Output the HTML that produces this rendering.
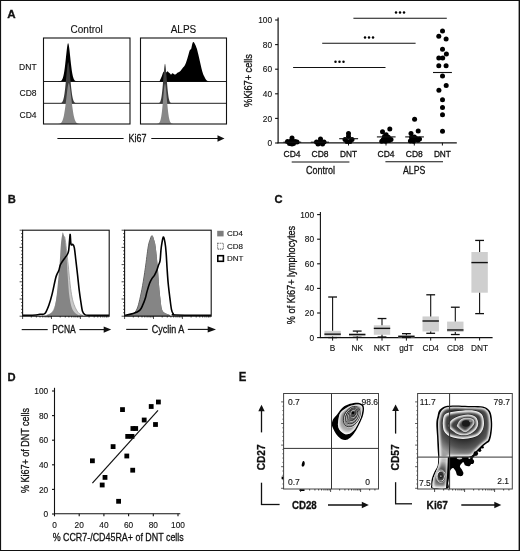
<!DOCTYPE html><html><head><meta charset="utf-8"><style>html,body{margin:0;padding:0;background:#fff;overflow:hidden;}svg{display:block;will-change:transform;font-family:"Liberation Sans",sans-serif;}text{stroke:#111;stroke-width:0.12px;} text[textLength]{stroke-width:0.3px;}</style></head><body><svg width="520" height="551" viewBox="0 0 520 551" font-family="Liberation Sans, sans-serif">
<rect x="0" y="0" width="520" height="551" fill="#fff"/>
<text x="7.3" y="17.8" font-size="11.8" text-anchor="start" fill="#111" font-weight="bold" textLength="8.4" lengthAdjust="spacingAndGlyphs" >A</text>
<text x="7.7" y="202.9" font-size="11.8" text-anchor="start" fill="#111" font-weight="bold" textLength="8.1" lengthAdjust="spacingAndGlyphs" >B</text>
<text x="274.5" y="202.9" font-size="11.8" text-anchor="start" fill="#111" font-weight="bold" textLength="8.1" lengthAdjust="spacingAndGlyphs" >C</text>
<text x="7.5" y="380.8" font-size="11.8" text-anchor="start" fill="#111" font-weight="bold" textLength="8.1" lengthAdjust="spacingAndGlyphs" >D</text>
<text x="238.8" y="380.9" font-size="12.3" text-anchor="start" fill="#111" font-weight="bold" textLength="7.6" lengthAdjust="spacingAndGlyphs" >E</text>
<text x="86.7" y="32.8" font-size="10" text-anchor="middle" fill="#111" >Control</text>
<text x="183.5" y="32.8" font-size="10" text-anchor="middle" fill="#111" >ALPS</text>
<text x="36.6" y="70.2" font-size="8.5" text-anchor="end" fill="#111" >DNT</text>
<text x="36.6" y="95.9" font-size="8.5" text-anchor="end" fill="#111" >CD8</text>
<text x="36.6" y="118.1" font-size="8.5" text-anchor="end" fill="#111" >CD4</text>
<line x1="43.5" y1="81.5" x2="130" y2="81.5" stroke="#222" stroke-width="1" />
<line x1="43.5" y1="103.3" x2="130" y2="103.3" stroke="#222" stroke-width="1" />
<line x1="140.5" y1="81.5" x2="226.5" y2="81.5" stroke="#222" stroke-width="1" />
<line x1="140.5" y1="103.3" x2="226.5" y2="103.3" stroke="#222" stroke-width="1" />
<path d="M56.00,81.40 L56.25,81.40 L56.50,81.40 L56.75,81.40 L57.00,81.40 L57.25,81.40 L57.50,81.39 L57.75,81.39 L58.00,81.39 L58.25,81.38 L58.50,81.37 L58.75,81.36 L59.00,81.35 L59.25,81.33 L59.50,81.30 L59.75,81.27 L60.00,81.22 L60.25,81.15 L60.50,81.07 L60.75,80.96 L61.00,80.82 L61.25,80.64 L61.50,80.42 L61.75,80.14 L62.00,79.79 L62.25,79.36 L62.50,78.84 L62.75,78.21 L63.00,77.46 L63.25,76.58 L63.50,75.56 L63.75,74.37 L64.00,73.02 L64.25,71.50 L64.50,69.81 L64.75,67.95 L65.00,65.94 L65.25,63.79 L65.50,61.52 L65.75,59.18 L66.00,56.80 L66.25,54.43 L66.50,52.13 L66.75,49.95 L67.00,47.96 L67.25,46.23 L67.50,44.82 L67.75,43.81 L68.00,43.26 L68.25,43.33 L68.50,43.97 L68.75,45.07 L69.00,46.55 L69.25,48.34 L69.50,50.37 L69.75,52.58 L70.00,54.90 L70.25,57.28 L70.50,59.65 L70.75,61.98 L71.00,64.23 L71.25,66.35 L71.50,68.34 L71.75,70.16 L72.00,71.82 L72.25,73.31 L72.50,74.62 L72.75,75.77 L73.00,76.77 L73.25,77.62 L73.50,78.34 L73.75,78.95 L74.00,79.45 L74.25,79.86 L74.50,80.20 L74.75,80.47 L75.00,80.68 L75.25,80.85 L75.50,80.99 L75.75,81.09 L76.00,81.17 L76.25,81.23 L76.50,81.27 L76.75,81.31 L77.00,81.33 L77.25,81.35 L77.50,81.37 L77.75,81.38 L78.00,81.38 L78.25,81.39 L78.50,81.39 L78.75,81.39 L79.00,81.40 L79.25,81.40 L79.50,81.40 L79.75,81.40 L80.00,81.40 L80.25,81.40 L80.50,81.40 L80.75,81.40 L81.00,81.40 L81.25,81.40 L81.50,81.40 L81.75,81.40 L82.00,81.40 L82.00,81.4 L56.00,81.4 Z" fill="#000"/>
<path d="M56.00,103.30 L56.25,103.30 L56.50,103.30 L56.75,103.30 L57.00,103.30 L57.25,103.30 L57.50,103.30 L57.75,103.30 L58.00,103.30 L58.25,103.29 L58.50,103.29 L58.75,103.29 L59.00,103.28 L59.25,103.27 L59.50,103.26 L59.75,103.24 L60.00,103.22 L60.25,103.18 L60.50,103.14 L60.75,103.07 L61.00,102.99 L61.25,102.88 L61.50,102.73 L61.75,102.54 L62.00,102.29 L62.25,101.98 L62.50,101.58 L62.75,101.09 L63.00,100.48 L63.25,99.74 L63.50,98.84 L63.75,97.78 L64.00,96.54 L64.25,95.10 L64.50,93.45 L64.75,91.58 L65.00,89.51 L65.25,87.25 L65.50,84.80 L65.75,82.21 L66.00,79.52 L66.25,76.79 L66.50,74.07 L66.75,71.43 L67.00,68.97 L67.25,66.76 L67.50,64.90 L67.75,63.47 L68.00,62.56 L68.25,62.32 L68.50,62.86 L68.75,63.98 L69.00,65.60 L69.25,67.61 L69.50,69.93 L69.75,72.47 L70.00,75.15 L70.25,77.88 L70.50,80.61 L70.75,83.26 L71.00,85.80 L71.25,88.18 L71.50,90.37 L71.75,92.35 L72.00,94.13 L72.25,95.70 L72.50,97.06 L72.75,98.23 L73.00,99.22 L73.25,100.05 L73.50,100.74 L73.75,101.30 L74.00,101.75 L74.25,102.11 L74.50,102.40 L74.75,102.62 L75.00,102.79 L75.25,102.93 L75.50,103.03 L75.75,103.10 L76.00,103.16 L76.25,103.20 L76.50,103.23 L76.75,103.25 L77.00,103.27 L77.25,103.28 L77.50,103.28 L77.75,103.29 L78.00,103.29 L78.25,103.30 L78.50,103.30 L78.75,103.30 L79.00,103.30 L79.25,103.30 L79.50,103.30 L79.75,103.30 L80.00,103.30 L80.25,103.30 L80.50,103.30 L80.75,103.30 L81.00,103.30 L81.25,103.30 L81.50,103.30 L81.75,103.30 L82.00,103.30 L82.00,103.3 L56.00,103.3 Z" fill="#3c3c3c"/>
<path d="M56.00,123.99 L56.25,123.99 L56.50,123.99 L56.75,123.98 L57.00,123.98 L57.25,123.97 L57.50,123.96 L57.75,123.95 L58.00,123.94 L58.25,123.92 L58.50,123.89 L58.75,123.86 L59.00,123.82 L59.25,123.77 L59.50,123.71 L59.75,123.63 L60.00,123.54 L60.25,123.42 L60.50,123.28 L60.75,123.10 L61.00,122.89 L61.25,122.64 L61.50,122.34 L61.75,121.98 L62.00,121.56 L62.25,121.07 L62.50,120.50 L62.75,119.83 L63.00,119.08 L63.25,118.21 L63.50,117.24 L63.75,116.14 L64.00,114.92 L64.25,113.57 L64.50,112.10 L64.75,110.49 L65.00,108.77 L65.25,106.92 L65.50,104.98 L65.75,102.95 L66.00,100.84 L66.25,98.70 L66.50,96.54 L66.75,94.41 L67.00,92.32 L67.25,90.33 L67.50,88.48 L67.75,86.82 L68.00,85.38 L68.25,84.23 L68.50,83.42 L68.75,83.02 L69.00,83.20 L69.25,83.86 L69.50,84.89 L69.75,86.21 L70.00,87.79 L70.25,89.57 L70.50,91.51 L70.75,93.56 L71.00,95.68 L71.25,97.84 L71.50,99.99 L71.75,102.11 L72.00,104.17 L72.25,106.16 L72.50,108.04 L72.75,109.82 L73.00,111.47 L73.25,113.00 L73.50,114.40 L73.75,115.67 L74.00,116.81 L74.25,117.83 L74.50,118.74 L74.75,119.54 L75.00,120.24 L75.25,120.85 L75.50,121.37 L75.75,121.82 L76.00,122.20 L76.25,122.53 L76.50,122.80 L76.75,123.02 L77.00,123.21 L77.25,123.37 L77.50,123.50 L77.75,123.60 L78.00,123.68 L78.25,123.75 L78.50,123.80 L78.75,123.85 L79.00,123.88 L79.25,123.91 L79.50,123.93 L79.75,123.95 L80.00,123.96 L80.25,123.97 L80.50,123.98 L80.75,123.98 L81.00,123.99 L81.25,123.99 L81.50,123.99 L81.75,123.99 L82.00,124.00 L82.00,124 L56.00,124 Z" fill="#888"/>
<path d="M158.80,81.70 C158.93,81.62 159.08,82.13 159.60,81.20 C160.12,80.27 161.32,77.53 161.90,76.10 C162.48,74.67 162.67,73.37 163.10,72.60 C163.53,71.83 163.93,71.55 164.50,71.50 C165.07,71.45 166.00,72.35 166.50,72.30 C167.00,72.25 167.12,71.15 167.50,71.20 C167.88,71.25 168.38,72.22 168.80,72.60 C169.22,72.98 169.62,73.17 170.00,73.50 C170.38,73.83 170.72,74.65 171.10,74.60 C171.48,74.55 171.90,73.33 172.30,73.20 C172.70,73.07 173.12,73.57 173.50,73.80 C173.88,74.03 174.22,74.53 174.60,74.60 C174.98,74.67 175.40,74.43 175.80,74.20 C176.20,73.97 176.63,73.47 177.00,73.20 C177.37,72.93 177.43,72.98 178.00,72.60 C178.57,72.22 179.62,71.67 180.40,70.90 C181.18,70.13 181.93,68.97 182.70,68.00 C183.47,67.03 184.23,66.63 185.00,65.10 C185.77,63.57 186.53,61.20 187.30,58.80 C188.07,56.40 189.07,52.25 189.60,50.70 C190.13,49.15 190.22,49.88 190.50,49.50 C190.78,49.12 190.97,49.45 191.30,48.40 C191.63,47.35 192.12,44.27 192.50,43.20 C192.88,42.13 193.12,41.72 193.60,42.00 C194.08,42.28 194.97,44.07 195.40,44.90 C195.83,45.73 195.92,46.23 196.20,47.00 C196.48,47.77 196.67,47.92 197.10,49.50 C197.53,51.08 198.22,54.00 198.80,56.50 C199.38,59.00 200.02,62.02 200.60,64.50 C201.18,66.98 201.73,69.47 202.30,71.40 C202.87,73.33 203.33,74.65 204.00,76.10 C204.67,77.55 205.63,79.23 206.30,80.10 C206.97,80.97 207.55,81.03 208.00,81.30 C208.45,81.57 208.83,81.63 209.00,81.70 Z" fill="#000"/>
<path d="M155.00,103.30 L155.25,103.30 L155.50,103.30 L155.75,103.30 L156.00,103.30 L156.25,103.30 L156.50,103.30 L156.75,103.29 L157.00,103.29 L157.25,103.28 L157.50,103.28 L157.75,103.26 L158.00,103.24 L158.25,103.21 L158.50,103.16 L158.75,103.10 L159.00,103.00 L159.25,102.87 L159.50,102.68 L159.75,102.43 L160.00,102.09 L160.25,101.64 L160.50,101.06 L160.75,100.31 L161.00,99.37 L161.25,98.20 L161.50,96.79 L161.75,95.10 L162.00,93.11 L162.25,90.84 L162.50,88.28 L162.75,85.48 L163.00,82.47 L163.25,79.34 L163.50,76.18 L163.75,73.10 L164.00,70.23 L164.25,67.71 L164.50,65.70 L164.75,64.34 L165.00,63.80 L165.25,64.34 L165.50,65.70 L165.75,67.71 L166.00,70.23 L166.25,73.10 L166.50,76.18 L166.75,79.34 L167.00,82.47 L167.25,85.48 L167.50,88.28 L167.75,90.84 L168.00,93.11 L168.25,95.10 L168.50,96.79 L168.75,98.20 L169.00,99.37 L169.25,100.31 L169.50,101.06 L169.75,101.64 L170.00,102.09 L170.25,102.43 L170.50,102.68 L170.75,102.87 L171.00,103.00 L171.25,103.10 L171.50,103.16 L171.75,103.21 L172.00,103.24 L172.25,103.26 L172.50,103.28 L172.75,103.28 L173.00,103.29 L173.25,103.29 L173.50,103.30 L173.75,103.30 L174.00,103.30 L174.25,103.30 L174.50,103.30 L174.75,103.30 L175.00,103.30 L175.00,103.3 L155.00,103.3 Z" fill="#3c3c3c"/>
<path d="M155.00,123.70 L155.25,123.70 L155.50,123.70 L155.75,123.69 L156.00,123.69 L156.25,123.68 L156.50,123.68 L156.75,123.66 L157.00,123.65 L157.25,123.63 L157.50,123.59 L157.75,123.55 L158.00,123.49 L158.25,123.40 L158.50,123.29 L158.75,123.14 L159.00,122.94 L159.25,122.68 L159.50,122.35 L159.75,121.93 L160.00,121.39 L160.25,120.73 L160.50,119.92 L160.75,118.94 L161.00,117.77 L161.25,116.39 L161.50,114.79 L161.75,112.95 L162.00,110.88 L162.25,108.58 L162.50,106.07 L162.75,103.39 L163.00,100.58 L163.25,97.71 L163.50,94.85 L163.75,92.09 L164.00,89.53 L164.25,87.28 L164.50,85.47 L164.75,84.22 L165.00,83.70 L165.25,84.22 L165.50,85.47 L165.75,87.28 L166.00,89.53 L166.25,92.09 L166.50,94.85 L166.75,97.71 L167.00,100.58 L167.25,103.39 L167.50,106.07 L167.75,108.58 L168.00,110.88 L168.25,112.95 L168.50,114.79 L168.75,116.39 L169.00,117.77 L169.25,118.94 L169.50,119.92 L169.75,120.73 L170.00,121.39 L170.25,121.93 L170.50,122.35 L170.75,122.68 L171.00,122.94 L171.25,123.14 L171.50,123.29 L171.75,123.40 L172.00,123.49 L172.25,123.55 L172.50,123.59 L172.75,123.63 L173.00,123.65 L173.25,123.66 L173.50,123.68 L173.75,123.68 L174.00,123.69 L174.25,123.69 L174.50,123.70 L174.75,123.70 L175.00,123.70 L175.00,123.7 L155.00,123.7 Z" fill="#888"/>
<rect x="43.5" y="38" width="86.5" height="86" fill="none" stroke="#111" stroke-width="1.1" />
<rect x="140.5" y="38" width="86.0" height="86" fill="none" stroke="#111" stroke-width="1.1" />
<line x1="57.4" y1="138.5" x2="123.6" y2="138.5" stroke="#111" stroke-width="1.1" />
<text x="137.5" y="141.7" font-size="11.2" text-anchor="middle" fill="#111" textLength="18.0" lengthAdjust="spacingAndGlyphs" >Ki67</text>
<line x1="151.3" y1="138.5" x2="218.5" y2="138.5" stroke="#111" stroke-width="1.1" />
<path d="M224.5,138.5 L217.5,135.3 L217.5,141.7 Z" fill="#111"/>
<line x1="278.1" y1="17.5" x2="278.1" y2="143.3" stroke="#111" stroke-width="1.2" />
<line x1="277.5" y1="142.8" x2="456.8" y2="142.8" stroke="#111" stroke-width="1.2" />
<line x1="275.1" y1="143.0" x2="278.1" y2="143.0" stroke="#111" stroke-width="1.1" />
<text x="272.0" y="146.2" font-size="8.3" text-anchor="end" fill="#111" >0</text>
<line x1="275.1" y1="118.4" x2="278.1" y2="118.4" stroke="#111" stroke-width="1.1" />
<text x="272.0" y="121.60000000000001" font-size="8.3" text-anchor="end" fill="#111" >20</text>
<line x1="275.1" y1="93.8" x2="278.1" y2="93.8" stroke="#111" stroke-width="1.1" />
<text x="272.0" y="97.0" font-size="8.3" text-anchor="end" fill="#111" >40</text>
<line x1="275.1" y1="69.2" x2="278.1" y2="69.2" stroke="#111" stroke-width="1.1" />
<text x="272.0" y="72.4" font-size="8.3" text-anchor="end" fill="#111" >60</text>
<line x1="275.1" y1="44.599999999999994" x2="278.1" y2="44.599999999999994" stroke="#111" stroke-width="1.1" />
<text x="272.0" y="47.8" font-size="8.3" text-anchor="end" fill="#111" >80</text>
<line x1="275.1" y1="20.0" x2="278.1" y2="20.0" stroke="#111" stroke-width="1.1" />
<text x="272.0" y="23.2" font-size="8.3" text-anchor="end" fill="#111" >100</text>
<text transform="translate(252.2,80.5) rotate(-90)" font-size="11" text-anchor="middle" fill="#111" textLength="52.9" lengthAdjust="spacingAndGlyphs">%Ki67+ cells</text>
<line x1="292" y1="142.7" x2="292" y2="145.5" stroke="#111" stroke-width="1" />
<text x="292" y="156.9" font-size="9.2" text-anchor="middle" fill="#111" textLength="17.0" lengthAdjust="spacingAndGlyphs" >CD4</text>
<line x1="320" y1="142.7" x2="320" y2="145.5" stroke="#111" stroke-width="1" />
<text x="320" y="156.9" font-size="9.2" text-anchor="middle" fill="#111" textLength="17.0" lengthAdjust="spacingAndGlyphs" >CD8</text>
<line x1="348.5" y1="142.7" x2="348.5" y2="145.5" stroke="#111" stroke-width="1" />
<text x="348.5" y="156.9" font-size="9.2" text-anchor="middle" fill="#111" textLength="17.0" lengthAdjust="spacingAndGlyphs" >DNT</text>
<line x1="386" y1="142.7" x2="386" y2="145.5" stroke="#111" stroke-width="1" />
<text x="386" y="156.9" font-size="9.2" text-anchor="middle" fill="#111" textLength="17.0" lengthAdjust="spacingAndGlyphs" >CD4</text>
<line x1="414.3" y1="142.7" x2="414.3" y2="145.5" stroke="#111" stroke-width="1" />
<text x="414.3" y="156.9" font-size="9.2" text-anchor="middle" fill="#111" textLength="17.0" lengthAdjust="spacingAndGlyphs" >CD8</text>
<line x1="442.4" y1="142.7" x2="442.4" y2="145.5" stroke="#111" stroke-width="1" />
<text x="442.4" y="156.9" font-size="9.2" text-anchor="middle" fill="#111" textLength="17.0" lengthAdjust="spacingAndGlyphs" >DNT</text>
<line x1="291.7" y1="162" x2="349.4" y2="162" stroke="#111" stroke-width="1.1" />
<text x="320.5" y="174.0" font-size="10.8" text-anchor="middle" fill="#111" textLength="29.0" lengthAdjust="spacingAndGlyphs" >Control</text>
<line x1="385.4" y1="161.7" x2="443" y2="161.7" stroke="#111" stroke-width="1.1" />
<text x="414.2" y="173.7" font-size="10.7" text-anchor="middle" fill="#111" textLength="22.3" lengthAdjust="spacingAndGlyphs" >ALPS</text>
<line x1="293.1" y1="67.5" x2="385.5" y2="67.5" stroke="#111" stroke-width="1.1" />
<circle cx="335.5" cy="61.8" r="1.25" fill="#000"/>
<circle cx="339.5" cy="61.8" r="1.25" fill="#000"/>
<circle cx="343.5" cy="61.8" r="1.25" fill="#000"/>
<line x1="322.2" y1="43.3" x2="415.6" y2="43.3" stroke="#111" stroke-width="1.1" />
<circle cx="365" cy="37.599999999999994" r="1.25" fill="#000"/>
<circle cx="369" cy="37.599999999999994" r="1.25" fill="#000"/>
<circle cx="373" cy="37.599999999999994" r="1.25" fill="#000"/>
<line x1="353.4" y1="18.3" x2="446.8" y2="18.3" stroke="#111" stroke-width="1.1" />
<circle cx="396" cy="12.600000000000001" r="1.25" fill="#000"/>
<circle cx="400" cy="12.600000000000001" r="1.25" fill="#000"/>
<circle cx="404" cy="12.600000000000001" r="1.25" fill="#000"/>
<circle cx="292" cy="138" r="2.5" fill="#000"/>
<circle cx="287.5" cy="141.5" r="2.5" fill="#000"/>
<circle cx="291" cy="141" r="2.5" fill="#000"/>
<circle cx="295" cy="141.5" r="2.5" fill="#000"/>
<circle cx="297" cy="142" r="2.5" fill="#000"/>
<circle cx="289.5" cy="143.5" r="2.5" fill="#000"/>
<circle cx="293.5" cy="143.5" r="2.5" fill="#000"/>
<circle cx="292" cy="144" r="2.5" fill="#000"/>
<circle cx="320.5" cy="139" r="2.5" fill="#000"/>
<circle cx="316.5" cy="142" r="2.5" fill="#000"/>
<circle cx="320" cy="142" r="2.5" fill="#000"/>
<circle cx="324" cy="142" r="2.5" fill="#000"/>
<circle cx="318" cy="144" r="2.5" fill="#000"/>
<circle cx="322.5" cy="144" r="2.5" fill="#000"/>
<circle cx="348.5" cy="133.5" r="2.5" fill="#000"/>
<circle cx="348.5" cy="136.5" r="2.5" fill="#000"/>
<circle cx="345" cy="139.5" r="2.5" fill="#000"/>
<circle cx="352" cy="139.5" r="2.5" fill="#000"/>
<circle cx="347" cy="141.5" r="2.5" fill="#000"/>
<circle cx="350" cy="141.5" r="2.5" fill="#000"/>
<circle cx="389.8" cy="129" r="2.5" fill="#000"/>
<circle cx="382.5" cy="131.7" r="2.5" fill="#000"/>
<circle cx="386.1" cy="134.8" r="2.5" fill="#000"/>
<circle cx="383.3" cy="139.4" r="2.5" fill="#000"/>
<circle cx="389" cy="140.6" r="2.5" fill="#000"/>
<circle cx="386.1" cy="138.3" r="2.5" fill="#000"/>
<circle cx="384.5" cy="136.5" r="2.5" fill="#000"/>
<circle cx="388.3" cy="137.2" r="2.5" fill="#000"/>
<circle cx="385.5" cy="141.3" r="2.5" fill="#000"/>
<circle cx="391" cy="139.5" r="2.5" fill="#000"/>
<circle cx="381.8" cy="141.2" r="2.5" fill="#000"/>
<circle cx="414.6" cy="119.2" r="2.5" fill="#000"/>
<circle cx="418.2" cy="131.1" r="2.5" fill="#000"/>
<circle cx="411" cy="133.6" r="2.5" fill="#000"/>
<circle cx="414.4" cy="137.1" r="2.5" fill="#000"/>
<circle cx="410.4" cy="141.1" r="2.5" fill="#000"/>
<circle cx="417.9" cy="140.2" r="2.5" fill="#000"/>
<circle cx="411.5" cy="137.5" r="2.5" fill="#000"/>
<circle cx="416" cy="138.5" r="2.5" fill="#000"/>
<circle cx="413.5" cy="141.3" r="2.5" fill="#000"/>
<circle cx="419.5" cy="139" r="2.5" fill="#000"/>
<circle cx="442.5" cy="31.1" r="2.5" fill="#000"/>
<circle cx="438.8" cy="36.3" r="2.5" fill="#000"/>
<circle cx="446.1" cy="39.1" r="2.5" fill="#000"/>
<circle cx="442.5" cy="49.2" r="2.5" fill="#000"/>
<circle cx="446.4" cy="54" r="2.5" fill="#000"/>
<circle cx="438.8" cy="57.9" r="2.5" fill="#000"/>
<circle cx="442.7" cy="58.1" r="2.5" fill="#000"/>
<circle cx="438.8" cy="65.8" r="2.5" fill="#000"/>
<circle cx="446.1" cy="65.8" r="2.5" fill="#000"/>
<circle cx="442.5" cy="76.1" r="2.5" fill="#000"/>
<circle cx="446.2" cy="85.6" r="2.5" fill="#000"/>
<circle cx="438.9" cy="90.3" r="2.5" fill="#000"/>
<circle cx="442.5" cy="99.8" r="2.5" fill="#000"/>
<circle cx="442.5" cy="107.5" r="2.5" fill="#000"/>
<circle cx="442.5" cy="114.8" r="2.5" fill="#000"/>
<circle cx="442.5" cy="131.3" r="2.5" fill="#000"/>
<line x1="283.4" y1="142.2" x2="301.2" y2="142.2" stroke="#111" stroke-width="1.1" />
<line x1="310.8" y1="142.2" x2="329" y2="142.2" stroke="#111" stroke-width="1.1" />
<line x1="339.2" y1="138.7" x2="358.1" y2="138.7" stroke="#111" stroke-width="1.1" />
<line x1="376.9" y1="136.9" x2="395.6" y2="136.9" stroke="#111" stroke-width="1.1" />
<line x1="405.2" y1="136.9" x2="423.9" y2="136.9" stroke="#111" stroke-width="1.1" />
<line x1="433" y1="72.5" x2="451.9" y2="72.5" stroke="#111" stroke-width="1.1" />
<line x1="19.6" y1="316.20" x2="22.6" y2="316.20" stroke="#222" stroke-width="0.8" />
<line x1="21.1" y1="312.76" x2="22.6" y2="312.76" stroke="#222" stroke-width="0.8" />
<line x1="21.1" y1="309.32" x2="22.6" y2="309.32" stroke="#222" stroke-width="0.8" />
<line x1="21.1" y1="305.88" x2="22.6" y2="305.88" stroke="#222" stroke-width="0.8" />
<line x1="21.1" y1="302.44" x2="22.6" y2="302.44" stroke="#222" stroke-width="0.8" />
<line x1="19.6" y1="299.00" x2="22.6" y2="299.00" stroke="#222" stroke-width="0.8" />
<line x1="21.1" y1="295.56" x2="22.6" y2="295.56" stroke="#222" stroke-width="0.8" />
<line x1="21.1" y1="292.12" x2="22.6" y2="292.12" stroke="#222" stroke-width="0.8" />
<line x1="21.1" y1="288.68" x2="22.6" y2="288.68" stroke="#222" stroke-width="0.8" />
<line x1="21.1" y1="285.24" x2="22.6" y2="285.24" stroke="#222" stroke-width="0.8" />
<line x1="19.6" y1="281.80" x2="22.6" y2="281.80" stroke="#222" stroke-width="0.8" />
<line x1="21.1" y1="278.36" x2="22.6" y2="278.36" stroke="#222" stroke-width="0.8" />
<line x1="21.1" y1="274.92" x2="22.6" y2="274.92" stroke="#222" stroke-width="0.8" />
<line x1="21.1" y1="271.48" x2="22.6" y2="271.48" stroke="#222" stroke-width="0.8" />
<line x1="21.1" y1="268.04" x2="22.6" y2="268.04" stroke="#222" stroke-width="0.8" />
<line x1="19.6" y1="264.60" x2="22.6" y2="264.60" stroke="#222" stroke-width="0.8" />
<line x1="21.1" y1="261.16" x2="22.6" y2="261.16" stroke="#222" stroke-width="0.8" />
<line x1="21.1" y1="257.72" x2="22.6" y2="257.72" stroke="#222" stroke-width="0.8" />
<line x1="21.1" y1="254.28" x2="22.6" y2="254.28" stroke="#222" stroke-width="0.8" />
<line x1="21.1" y1="250.84" x2="22.6" y2="250.84" stroke="#222" stroke-width="0.8" />
<line x1="19.6" y1="247.40" x2="22.6" y2="247.40" stroke="#222" stroke-width="0.8" />
<line x1="21.1" y1="243.96" x2="22.6" y2="243.96" stroke="#222" stroke-width="0.8" />
<line x1="21.1" y1="240.52" x2="22.6" y2="240.52" stroke="#222" stroke-width="0.8" />
<line x1="21.1" y1="237.08" x2="22.6" y2="237.08" stroke="#222" stroke-width="0.8" />
<line x1="21.1" y1="233.64" x2="22.6" y2="233.64" stroke="#222" stroke-width="0.8" />
<line x1="19.6" y1="230.20" x2="22.6" y2="230.20" stroke="#222" stroke-width="0.8" />
<line x1="22.60" y1="316" x2="22.60" y2="319" stroke="#222" stroke-width="0.8" />
<line x1="31.30" y1="316" x2="31.30" y2="317.5" stroke="#222" stroke-width="0.8" />
<line x1="36.39" y1="316" x2="36.39" y2="317.5" stroke="#222" stroke-width="0.8" />
<line x1="40.00" y1="316" x2="40.00" y2="317.5" stroke="#222" stroke-width="0.8" />
<line x1="42.80" y1="316" x2="42.80" y2="317.5" stroke="#222" stroke-width="0.8" />
<line x1="45.09" y1="316" x2="45.09" y2="317.5" stroke="#222" stroke-width="0.8" />
<line x1="47.02" y1="316" x2="47.02" y2="317.5" stroke="#222" stroke-width="0.8" />
<line x1="48.70" y1="316" x2="48.70" y2="317.5" stroke="#222" stroke-width="0.8" />
<line x1="50.18" y1="316" x2="50.18" y2="317.5" stroke="#222" stroke-width="0.8" />
<line x1="51.50" y1="316" x2="51.50" y2="319" stroke="#222" stroke-width="0.8" />
<line x1="60.20" y1="316" x2="60.20" y2="317.5" stroke="#222" stroke-width="0.8" />
<line x1="65.29" y1="316" x2="65.29" y2="317.5" stroke="#222" stroke-width="0.8" />
<line x1="68.90" y1="316" x2="68.90" y2="317.5" stroke="#222" stroke-width="0.8" />
<line x1="71.70" y1="316" x2="71.70" y2="317.5" stroke="#222" stroke-width="0.8" />
<line x1="73.99" y1="316" x2="73.99" y2="317.5" stroke="#222" stroke-width="0.8" />
<line x1="75.92" y1="316" x2="75.92" y2="317.5" stroke="#222" stroke-width="0.8" />
<line x1="77.60" y1="316" x2="77.60" y2="317.5" stroke="#222" stroke-width="0.8" />
<line x1="79.08" y1="316" x2="79.08" y2="317.5" stroke="#222" stroke-width="0.8" />
<line x1="80.40" y1="316" x2="80.40" y2="319" stroke="#222" stroke-width="0.8" />
<line x1="89.10" y1="316" x2="89.10" y2="317.5" stroke="#222" stroke-width="0.8" />
<line x1="94.19" y1="316" x2="94.19" y2="317.5" stroke="#222" stroke-width="0.8" />
<line x1="97.80" y1="316" x2="97.80" y2="317.5" stroke="#222" stroke-width="0.8" />
<line x1="100.60" y1="316" x2="100.60" y2="317.5" stroke="#222" stroke-width="0.8" />
<line x1="102.89" y1="316" x2="102.89" y2="317.5" stroke="#222" stroke-width="0.8" />
<line x1="104.82" y1="316" x2="104.82" y2="317.5" stroke="#222" stroke-width="0.8" />
<line x1="106.50" y1="316" x2="106.50" y2="317.5" stroke="#222" stroke-width="0.8" />
<line x1="107.98" y1="316" x2="107.98" y2="317.5" stroke="#222" stroke-width="0.8" />
<line x1="121.6" y1="316.20" x2="124.6" y2="316.20" stroke="#222" stroke-width="0.8" />
<line x1="123.1" y1="312.76" x2="124.6" y2="312.76" stroke="#222" stroke-width="0.8" />
<line x1="123.1" y1="309.32" x2="124.6" y2="309.32" stroke="#222" stroke-width="0.8" />
<line x1="123.1" y1="305.88" x2="124.6" y2="305.88" stroke="#222" stroke-width="0.8" />
<line x1="123.1" y1="302.44" x2="124.6" y2="302.44" stroke="#222" stroke-width="0.8" />
<line x1="121.6" y1="299.00" x2="124.6" y2="299.00" stroke="#222" stroke-width="0.8" />
<line x1="123.1" y1="295.56" x2="124.6" y2="295.56" stroke="#222" stroke-width="0.8" />
<line x1="123.1" y1="292.12" x2="124.6" y2="292.12" stroke="#222" stroke-width="0.8" />
<line x1="123.1" y1="288.68" x2="124.6" y2="288.68" stroke="#222" stroke-width="0.8" />
<line x1="123.1" y1="285.24" x2="124.6" y2="285.24" stroke="#222" stroke-width="0.8" />
<line x1="121.6" y1="281.80" x2="124.6" y2="281.80" stroke="#222" stroke-width="0.8" />
<line x1="123.1" y1="278.36" x2="124.6" y2="278.36" stroke="#222" stroke-width="0.8" />
<line x1="123.1" y1="274.92" x2="124.6" y2="274.92" stroke="#222" stroke-width="0.8" />
<line x1="123.1" y1="271.48" x2="124.6" y2="271.48" stroke="#222" stroke-width="0.8" />
<line x1="123.1" y1="268.04" x2="124.6" y2="268.04" stroke="#222" stroke-width="0.8" />
<line x1="121.6" y1="264.60" x2="124.6" y2="264.60" stroke="#222" stroke-width="0.8" />
<line x1="123.1" y1="261.16" x2="124.6" y2="261.16" stroke="#222" stroke-width="0.8" />
<line x1="123.1" y1="257.72" x2="124.6" y2="257.72" stroke="#222" stroke-width="0.8" />
<line x1="123.1" y1="254.28" x2="124.6" y2="254.28" stroke="#222" stroke-width="0.8" />
<line x1="123.1" y1="250.84" x2="124.6" y2="250.84" stroke="#222" stroke-width="0.8" />
<line x1="121.6" y1="247.40" x2="124.6" y2="247.40" stroke="#222" stroke-width="0.8" />
<line x1="123.1" y1="243.96" x2="124.6" y2="243.96" stroke="#222" stroke-width="0.8" />
<line x1="123.1" y1="240.52" x2="124.6" y2="240.52" stroke="#222" stroke-width="0.8" />
<line x1="123.1" y1="237.08" x2="124.6" y2="237.08" stroke="#222" stroke-width="0.8" />
<line x1="123.1" y1="233.64" x2="124.6" y2="233.64" stroke="#222" stroke-width="0.8" />
<line x1="121.6" y1="230.20" x2="124.6" y2="230.20" stroke="#222" stroke-width="0.8" />
<line x1="124.60" y1="316" x2="124.60" y2="319" stroke="#222" stroke-width="0.8" />
<line x1="133.30" y1="316" x2="133.30" y2="317.5" stroke="#222" stroke-width="0.8" />
<line x1="138.39" y1="316" x2="138.39" y2="317.5" stroke="#222" stroke-width="0.8" />
<line x1="142.00" y1="316" x2="142.00" y2="317.5" stroke="#222" stroke-width="0.8" />
<line x1="144.80" y1="316" x2="144.80" y2="317.5" stroke="#222" stroke-width="0.8" />
<line x1="147.09" y1="316" x2="147.09" y2="317.5" stroke="#222" stroke-width="0.8" />
<line x1="149.02" y1="316" x2="149.02" y2="317.5" stroke="#222" stroke-width="0.8" />
<line x1="150.70" y1="316" x2="150.70" y2="317.5" stroke="#222" stroke-width="0.8" />
<line x1="152.18" y1="316" x2="152.18" y2="317.5" stroke="#222" stroke-width="0.8" />
<line x1="153.50" y1="316" x2="153.50" y2="319" stroke="#222" stroke-width="0.8" />
<line x1="162.20" y1="316" x2="162.20" y2="317.5" stroke="#222" stroke-width="0.8" />
<line x1="167.29" y1="316" x2="167.29" y2="317.5" stroke="#222" stroke-width="0.8" />
<line x1="170.90" y1="316" x2="170.90" y2="317.5" stroke="#222" stroke-width="0.8" />
<line x1="173.70" y1="316" x2="173.70" y2="317.5" stroke="#222" stroke-width="0.8" />
<line x1="175.99" y1="316" x2="175.99" y2="317.5" stroke="#222" stroke-width="0.8" />
<line x1="177.92" y1="316" x2="177.92" y2="317.5" stroke="#222" stroke-width="0.8" />
<line x1="179.60" y1="316" x2="179.60" y2="317.5" stroke="#222" stroke-width="0.8" />
<line x1="181.08" y1="316" x2="181.08" y2="317.5" stroke="#222" stroke-width="0.8" />
<line x1="182.40" y1="316" x2="182.40" y2="319" stroke="#222" stroke-width="0.8" />
<line x1="191.10" y1="316" x2="191.10" y2="317.5" stroke="#222" stroke-width="0.8" />
<line x1="196.19" y1="316" x2="196.19" y2="317.5" stroke="#222" stroke-width="0.8" />
<line x1="199.80" y1="316" x2="199.80" y2="317.5" stroke="#222" stroke-width="0.8" />
<line x1="202.60" y1="316" x2="202.60" y2="317.5" stroke="#222" stroke-width="0.8" />
<line x1="204.89" y1="316" x2="204.89" y2="317.5" stroke="#222" stroke-width="0.8" />
<line x1="206.82" y1="316" x2="206.82" y2="317.5" stroke="#222" stroke-width="0.8" />
<line x1="208.50" y1="316" x2="208.50" y2="317.5" stroke="#222" stroke-width="0.8" />
<line x1="209.98" y1="316" x2="209.98" y2="317.5" stroke="#222" stroke-width="0.8" />
<path d="M47.00,315.50 C47.83,315.00 50.58,314.25 52.00,312.50 C53.42,310.75 54.50,308.42 55.50,305.00 C56.50,301.58 57.25,297.00 58.00,292.00 C58.75,287.00 59.42,280.67 60.00,275.00 C60.58,269.33 61.03,263.17 61.50,258.00 C61.97,252.83 62.33,247.53 62.80,244.00 C63.27,240.47 63.88,237.47 64.30,236.80 C64.72,236.13 64.88,237.47 65.30,240.00 C65.72,242.53 66.32,247.83 66.80,252.00 C67.28,256.17 67.63,259.50 68.20,265.00 C68.77,270.50 69.57,279.67 70.20,285.00 C70.83,290.33 71.37,293.75 72.00,297.00 C72.63,300.25 73.25,302.33 74.00,304.50 C74.75,306.67 75.67,308.50 76.50,310.00 C77.33,311.50 77.92,312.58 79.00,313.50 C80.08,314.42 82.33,315.17 83.00,315.50 Z" fill="#c9c9c9" stroke="#9a9a9a" stroke-width="0.8"/>
<path d="M45.00,315.50 C45.80,315.22 48.32,314.77 49.80,313.80 C51.28,312.83 52.82,312.28 53.90,309.70 C54.98,307.12 55.62,302.93 56.30,298.30 C56.98,293.67 57.45,287.62 58.00,281.90 C58.55,276.18 59.12,270.27 59.60,264.00 C60.08,257.73 60.47,249.22 60.90,244.30 C61.33,239.38 61.87,236.45 62.20,234.50 C62.53,232.55 62.67,232.60 62.90,232.60 C63.13,232.60 63.33,233.63 63.60,234.50 C63.87,235.37 64.08,235.35 64.50,237.80 C64.92,240.25 65.55,242.67 66.10,249.20 C66.65,255.73 67.25,269.10 67.80,277.00 C68.35,284.90 68.72,291.43 69.40,296.60 C70.08,301.77 70.95,305.27 71.90,308.00 C72.85,310.73 73.92,311.75 75.10,313.00 C76.28,314.25 78.35,315.08 79.00,315.50 Z" fill="#858585"/>
<path d="M23.00,315.30 C25.17,315.25 33.17,315.17 36.00,315.00 C38.83,314.83 38.52,314.55 40.00,314.30 C41.48,314.05 43.40,315.08 44.90,313.50 C46.40,311.92 47.77,308.15 49.00,304.80 C50.23,301.45 51.22,297.75 52.30,293.40 C53.38,289.05 54.68,281.97 55.50,278.70 C56.32,275.43 56.65,275.17 57.20,273.80 C57.75,272.43 58.27,272.00 58.80,270.50 C59.33,269.00 59.72,266.43 60.40,264.80 C61.08,263.17 62.08,261.93 62.90,260.70 C63.72,259.47 64.62,258.35 65.30,257.40 C65.98,256.45 66.45,256.08 67.00,255.00 C67.55,253.92 68.17,253.40 68.60,250.90 C69.03,248.40 69.33,242.73 69.60,240.00 C69.87,237.27 69.97,233.78 70.20,234.50 C70.43,235.22 70.58,242.67 71.00,244.30 C71.42,245.93 72.15,243.75 72.70,244.30 C73.25,244.85 73.77,244.87 74.30,247.60 C74.83,250.33 75.35,256.07 75.90,260.70 C76.45,265.33 77.05,270.50 77.60,275.40 C78.15,280.30 78.67,285.75 79.20,290.10 C79.73,294.45 80.25,297.97 80.80,301.50 C81.35,305.03 81.82,309.12 82.50,311.30 C83.18,313.48 83.82,313.93 84.90,314.60 C85.98,315.27 84.98,315.18 89.00,315.30 C93.02,315.42 105.67,315.30 109.00,315.30" fill="none" stroke="#000" stroke-width="1.6" stroke-linejoin="round"/>
<path d="M126.00,315.50 C127.17,315.22 131.17,314.88 133.00,313.80 C134.83,312.72 135.87,311.42 137.00,309.00 C138.13,306.58 138.87,303.22 139.80,299.30 C140.73,295.38 141.67,290.78 142.60,285.50 C143.53,280.22 144.47,274.03 145.40,267.60 C146.33,261.17 147.38,251.67 148.20,246.90 C149.02,242.13 149.68,240.85 150.30,239.00 C150.92,237.15 151.37,235.73 151.90,235.80 C152.43,235.87 152.95,237.55 153.50,239.40 C154.05,241.25 154.57,242.20 155.20,246.90 C155.83,251.60 156.73,261.17 157.30,267.60 C157.87,274.03 158.15,280.22 158.60,285.50 C159.05,290.78 159.53,295.38 160.00,299.30 C160.47,303.22 160.70,306.72 161.40,309.00 C162.10,311.28 162.77,311.92 164.20,313.00 C165.63,314.08 169.03,315.08 170.00,315.50 Z" fill="#8a8a8a" stroke="#555" stroke-width="0.9"/>
<path d="M127.00,315.50 C128.17,315.22 132.20,314.88 134.00,313.80 C135.80,312.72 136.72,311.42 137.80,309.00 C138.88,306.58 139.58,303.22 140.50,299.30 C141.42,295.38 142.38,290.78 143.30,285.50 C144.22,280.22 145.08,274.03 146.00,267.60 C146.92,261.17 148.00,251.67 148.80,246.90 C149.60,242.13 150.20,240.93 150.80,239.00 C151.40,237.07 151.87,235.23 152.40,235.30 C152.93,235.37 153.45,237.47 154.00,239.40 C154.55,241.33 155.07,242.20 155.70,246.90 C156.33,251.60 157.23,261.17 157.80,267.60 C158.37,274.03 158.65,280.22 159.10,285.50 C159.55,290.78 160.03,295.38 160.50,299.30 C160.97,303.22 161.20,306.72 161.90,309.00 C162.60,311.28 163.23,311.92 164.70,313.00 C166.17,314.08 169.70,315.08 170.70,315.50 Z" fill="#858585"/>
<path d="M125.00,315.20 C126.37,314.93 130.75,314.40 133.20,313.60 C135.65,312.80 138.08,311.88 139.70,310.40 C141.32,308.92 141.95,306.75 142.90,304.70 C143.85,302.65 144.72,300.28 145.40,298.10 C146.08,295.92 146.32,294.03 147.00,291.60 C147.68,289.17 148.68,285.67 149.50,283.50 C150.32,281.33 151.08,279.97 151.90,278.60 C152.72,277.23 153.58,276.67 154.40,275.30 C155.22,273.93 156.13,272.03 156.80,270.40 C157.47,268.77 157.85,267.13 158.40,265.50 C158.95,263.87 159.68,263.05 160.10,260.60 C160.52,258.15 160.63,253.52 160.90,250.80 C161.17,248.08 161.30,246.60 161.70,244.30 C162.10,242.00 162.75,237.27 163.30,237.00 C163.85,236.73 164.53,240.12 165.00,242.70 C165.47,245.28 165.75,248.15 166.10,252.50 C166.45,256.85 166.75,263.63 167.10,268.80 C167.45,273.97 167.73,278.62 168.20,283.50 C168.67,288.38 169.35,293.75 169.90,298.10 C170.45,302.45 170.97,307.02 171.50,309.60 C172.03,312.18 172.35,312.70 173.10,313.60 C173.85,314.50 169.68,314.73 176.00,315.00 C182.32,315.27 205.17,315.17 211.00,315.20" fill="none" stroke="#000" stroke-width="1.6" stroke-linejoin="round"/>
<rect x="22.6" y="230.2" width="86.6" height="86" fill="none" stroke="#111" stroke-width="1.1" />
<rect x="124.6" y="230.2" width="86.6" height="86" fill="none" stroke="#111" stroke-width="1.1" />
<rect x="217.2" y="230.8" width="6.4" height="5.6" fill="#7d7d7d" stroke="none" stroke-width="0" />
<rect x="217.6" y="243.3" width="5.8" height="5.8" fill="none" stroke="#777" stroke-width="1.1" stroke-dasharray="1.3,0.7"/>
<rect x="217.8" y="255.7" width="5.6" height="5.6" fill="none" stroke="#000" stroke-width="1.6" />
<text x="227" y="236.3" font-size="8" text-anchor="start" fill="#111" >CD4</text>
<text x="227" y="248.6" font-size="8" text-anchor="start" fill="#111" >CD8</text>
<text x="227" y="260.9" font-size="8" text-anchor="start" fill="#111" >DNT</text>
<line x1="21.7" y1="329.6" x2="47.7" y2="329.6" stroke="#111" stroke-width="1.1" />
<text x="64" y="333.1" font-size="11.2" text-anchor="middle" fill="#111" textLength="23.6" lengthAdjust="spacingAndGlyphs" >PCNA</text>
<line x1="79.4" y1="329.6" x2="104.7" y2="329.6" stroke="#111" stroke-width="1.1" />
<path d="M111.2,329.6 L103.7,326.40000000000003 L103.7,332.8 Z" fill="#111"/>
<line x1="126.2" y1="329.4" x2="147.7" y2="329.4" stroke="#111" stroke-width="1.1" />
<text x="167.9" y="332.6" font-size="11.2" text-anchor="middle" fill="#111" textLength="32.5" lengthAdjust="spacingAndGlyphs" >Cyclin A</text>
<line x1="187.8" y1="329.4" x2="208.7" y2="329.4" stroke="#111" stroke-width="1.1" />
<path d="M216,329.4 L207.7,326.2 L207.7,332.59999999999997 Z" fill="#111"/>
<line x1="320.4" y1="212" x2="320.4" y2="338" stroke="#111" stroke-width="1.1" />
<line x1="319.9" y1="337.6" x2="492.6" y2="337.6" stroke="#111" stroke-width="1.1" />
<line x1="317.1" y1="337.6" x2="320.4" y2="337.6" stroke="#111" stroke-width="1.1" />
<text x="314.0" y="340.6" font-size="8.3" text-anchor="end" fill="#111" >0</text>
<line x1="317.1" y1="313.0" x2="320.4" y2="313.0" stroke="#111" stroke-width="1.1" />
<text x="314.0" y="316.0" font-size="8.3" text-anchor="end" fill="#111" >20</text>
<line x1="317.1" y1="288.40000000000003" x2="320.4" y2="288.40000000000003" stroke="#111" stroke-width="1.1" />
<text x="314.0" y="291.40000000000003" font-size="8.3" text-anchor="end" fill="#111" >40</text>
<line x1="317.1" y1="263.8" x2="320.4" y2="263.8" stroke="#111" stroke-width="1.1" />
<text x="314.0" y="266.8" font-size="8.3" text-anchor="end" fill="#111" >60</text>
<line x1="317.1" y1="239.20000000000002" x2="320.4" y2="239.20000000000002" stroke="#111" stroke-width="1.1" />
<text x="314.0" y="242.20000000000002" font-size="8.3" text-anchor="end" fill="#111" >80</text>
<line x1="317.1" y1="214.60000000000002" x2="320.4" y2="214.60000000000002" stroke="#111" stroke-width="1.1" />
<text x="314.0" y="217.60000000000002" font-size="8.3" text-anchor="end" fill="#111" >100</text>
<text transform="translate(295.0,275) rotate(-90)" font-size="10.4" text-anchor="middle" fill="#111" textLength="98.4" lengthAdjust="spacingAndGlyphs">% of Ki67+ lymphocytes</text>
<rect x="324.40000000000003" y="330.84" width="16.4" height="5.78" fill="#cfcfcf"/>
<line x1="332.6" y1="297.01000000000005" x2="332.6" y2="330.83500000000004" stroke="#111" stroke-width="1.1" />
<line x1="332.6" y1="337.6" x2="332.6" y2="336.61600000000004" stroke="#111" stroke-width="1.1" />
<line x1="328.20000000000005" y1="297.01000000000005" x2="337.0" y2="297.01000000000005" stroke="#111" stroke-width="1.3" />
<line x1="328.20000000000005" y1="337.6" x2="337.0" y2="337.6" stroke="#111" stroke-width="1.3" />
<line x1="324.40000000000003" y1="334.156" x2="340.8" y2="334.156" stroke="#111" stroke-width="1.4" />
<line x1="332.6" y1="337.6" x2="332.6" y2="340.6" stroke="#111" stroke-width="1" />
<text x="332.6" y="351.3" font-size="8.3" text-anchor="middle" fill="#111" >B</text>
<rect x="349.0" y="333.30" width="16.4" height="3.07" fill="#cfcfcf"/>
<line x1="357.2" y1="331.081" x2="357.2" y2="333.295" stroke="#111" stroke-width="1.1" />
<line x1="357.2" y1="337.35400000000004" x2="357.2" y2="336.37" stroke="#111" stroke-width="1.1" />
<line x1="352.8" y1="331.081" x2="361.59999999999997" y2="331.081" stroke="#111" stroke-width="1.3" />
<line x1="352.8" y1="337.35400000000004" x2="361.59999999999997" y2="337.35400000000004" stroke="#111" stroke-width="1.3" />
<line x1="349.0" y1="334.52500000000003" x2="365.4" y2="334.52500000000003" stroke="#111" stroke-width="1.4" />
<line x1="357.2" y1="337.6" x2="357.2" y2="340.6" stroke="#111" stroke-width="1" />
<text x="357.2" y="351.3" font-size="8.3" text-anchor="middle" fill="#111" >NK</text>
<rect x="373.8" y="325.30" width="16.4" height="9.47" fill="#cfcfcf"/>
<line x1="382.0" y1="318.535" x2="382.0" y2="325.3" stroke="#111" stroke-width="1.1" />
<line x1="382.0" y1="336.985" x2="382.0" y2="334.771" stroke="#111" stroke-width="1.1" />
<line x1="377.6" y1="318.535" x2="386.4" y2="318.535" stroke="#111" stroke-width="1.3" />
<line x1="377.6" y1="336.985" x2="386.4" y2="336.985" stroke="#111" stroke-width="1.3" />
<line x1="373.8" y1="328.375" x2="390.2" y2="328.375" stroke="#111" stroke-width="1.4" />
<line x1="382.0" y1="337.6" x2="382.0" y2="340.6" stroke="#111" stroke-width="1" />
<text x="382.0" y="351.3" font-size="8.3" text-anchor="middle" fill="#111" >NKT</text>
<rect x="398.2" y="335.26" width="16.4" height="2.09" fill="#cfcfcf"/>
<line x1="406.4" y1="333.66400000000004" x2="406.4" y2="335.26300000000003" stroke="#111" stroke-width="1.1" />
<line x1="406.4" y1="337.47700000000003" x2="406.4" y2="337.35400000000004" stroke="#111" stroke-width="1.1" />
<line x1="402.0" y1="333.66400000000004" x2="410.79999999999995" y2="333.66400000000004" stroke="#111" stroke-width="1.3" />
<line x1="402.0" y1="337.47700000000003" x2="410.79999999999995" y2="337.47700000000003" stroke="#111" stroke-width="1.3" />
<line x1="398.2" y1="336.37" x2="414.59999999999997" y2="336.37" stroke="#111" stroke-width="1.4" />
<line x1="406.4" y1="337.6" x2="406.4" y2="340.6" stroke="#111" stroke-width="1" />
<text x="406.4" y="351.3" font-size="8.3" text-anchor="middle" fill="#111" >gdT</text>
<rect x="422.5" y="316.44" width="16.4" height="15.01" fill="#cfcfcf"/>
<line x1="430.7" y1="294.79600000000005" x2="430.7" y2="316.444" stroke="#111" stroke-width="1.1" />
<line x1="430.7" y1="333.295" x2="430.7" y2="331.45000000000005" stroke="#111" stroke-width="1.1" />
<line x1="426.3" y1="294.79600000000005" x2="435.09999999999997" y2="294.79600000000005" stroke="#111" stroke-width="1.3" />
<line x1="426.3" y1="333.295" x2="435.09999999999997" y2="333.295" stroke="#111" stroke-width="1.3" />
<line x1="422.5" y1="320.995" x2="438.9" y2="320.995" stroke="#111" stroke-width="1.4" />
<line x1="430.7" y1="337.6" x2="430.7" y2="340.6" stroke="#111" stroke-width="1" />
<text x="430.7" y="351.3" font-size="8.3" text-anchor="middle" fill="#111" >CD4</text>
<rect x="447.1" y="321.61" width="16.4" height="10.45" fill="#cfcfcf"/>
<line x1="455.3" y1="307.21900000000005" x2="455.3" y2="321.61" stroke="#111" stroke-width="1.1" />
<line x1="455.3" y1="334.52500000000003" x2="455.3" y2="332.065" stroke="#111" stroke-width="1.1" />
<line x1="450.90000000000003" y1="307.21900000000005" x2="459.7" y2="307.21900000000005" stroke="#111" stroke-width="1.3" />
<line x1="450.90000000000003" y1="334.52500000000003" x2="459.7" y2="334.52500000000003" stroke="#111" stroke-width="1.3" />
<line x1="447.1" y1="329.97400000000005" x2="463.5" y2="329.97400000000005" stroke="#111" stroke-width="1.4" />
<line x1="455.3" y1="337.6" x2="455.3" y2="340.6" stroke="#111" stroke-width="1" />
<text x="455.3" y="351.3" font-size="8.3" text-anchor="middle" fill="#111" >CD8</text>
<rect x="471.40000000000003" y="251.99" width="16.4" height="40.71" fill="#cfcfcf"/>
<line x1="479.6" y1="240.43" x2="479.6" y2="251.99200000000002" stroke="#111" stroke-width="1.1" />
<line x1="479.6" y1="313.615" x2="479.6" y2="292.70500000000004" stroke="#111" stroke-width="1.1" />
<line x1="475.20000000000005" y1="240.43" x2="484.0" y2="240.43" stroke="#111" stroke-width="1.3" />
<line x1="475.20000000000005" y1="313.615" x2="484.0" y2="313.615" stroke="#111" stroke-width="1.3" />
<line x1="471.40000000000003" y1="262.57000000000005" x2="487.8" y2="262.57000000000005" stroke="#111" stroke-width="1.4" />
<line x1="479.6" y1="337.6" x2="479.6" y2="340.6" stroke="#111" stroke-width="1" />
<text x="479.6" y="351.3" font-size="8.3" text-anchor="middle" fill="#111" >DNT</text>
<line x1="54.5" y1="387.8" x2="54.5" y2="514.3" stroke="#111" stroke-width="1.1" />
<line x1="54" y1="513.8" x2="180.3" y2="513.8" stroke="#111" stroke-width="1.1" />
<line x1="52" y1="514.0" x2="54.5" y2="514.0" stroke="#111" stroke-width="1.1" />
<text x="48.2" y="517.1" font-size="8.3" text-anchor="end" fill="#111" >0</text>
<line x1="54.5" y1="513.8" x2="54.5" y2="516.3" stroke="#111" stroke-width="1.1" />
<text x="54.5" y="527.9" font-size="8.3" text-anchor="middle" fill="#111" >0</text>
<line x1="52" y1="489.4" x2="54.5" y2="489.4" stroke="#111" stroke-width="1.1" />
<text x="48.2" y="492.5" font-size="8.3" text-anchor="end" fill="#111" >20</text>
<line x1="79.2" y1="513.8" x2="79.2" y2="516.3" stroke="#111" stroke-width="1.1" />
<text x="79.2" y="527.9" font-size="8.3" text-anchor="middle" fill="#111" >20</text>
<line x1="52" y1="464.8" x2="54.5" y2="464.8" stroke="#111" stroke-width="1.1" />
<text x="48.2" y="467.90000000000003" font-size="8.3" text-anchor="end" fill="#111" >40</text>
<line x1="103.9" y1="513.8" x2="103.9" y2="516.3" stroke="#111" stroke-width="1.1" />
<text x="103.9" y="527.9" font-size="8.3" text-anchor="middle" fill="#111" >40</text>
<line x1="52" y1="440.2" x2="54.5" y2="440.2" stroke="#111" stroke-width="1.1" />
<text x="48.2" y="443.3" font-size="8.3" text-anchor="end" fill="#111" >60</text>
<line x1="128.60000000000002" y1="513.8" x2="128.60000000000002" y2="516.3" stroke="#111" stroke-width="1.1" />
<text x="128.60000000000002" y="527.9" font-size="8.3" text-anchor="middle" fill="#111" >60</text>
<line x1="52" y1="415.6" x2="54.5" y2="415.6" stroke="#111" stroke-width="1.1" />
<text x="48.2" y="418.70000000000005" font-size="8.3" text-anchor="end" fill="#111" >80</text>
<line x1="153.3" y1="513.8" x2="153.3" y2="516.3" stroke="#111" stroke-width="1.1" />
<text x="153.3" y="527.9" font-size="8.3" text-anchor="middle" fill="#111" >80</text>
<line x1="52" y1="391.0" x2="54.5" y2="391.0" stroke="#111" stroke-width="1.1" />
<text x="48.2" y="394.1" font-size="8.3" text-anchor="end" fill="#111" >100</text>
<line x1="178.0" y1="513.8" x2="178.0" y2="516.3" stroke="#111" stroke-width="1.1" />
<text x="178.0" y="527.9" font-size="8.3" text-anchor="middle" fill="#111" >100</text>
<text transform="translate(28.5,450.5) rotate(-90)" font-size="10.3" text-anchor="middle" fill="#111" textLength="85.1" lengthAdjust="spacingAndGlyphs">% Ki67+ of DNT cells</text>
<text x="118.2" y="541.3" font-size="10.8" text-anchor="middle" fill="#111" textLength="131.1" lengthAdjust="spacingAndGlyphs" >% CCR7-/CD45RA+ of DNT cells</text>
<rect x="156.00" y="399.60" width="4.8" height="4.8" fill="#000"/>
<rect x="148.80" y="404.10" width="4.8" height="4.8" fill="#000"/>
<rect x="120.10" y="407.20" width="4.8" height="4.8" fill="#000"/>
<rect x="141.80" y="417.60" width="4.8" height="4.8" fill="#000"/>
<rect x="153.10" y="422.10" width="4.8" height="4.8" fill="#000"/>
<rect x="130.50" y="426.10" width="4.8" height="4.8" fill="#000"/>
<rect x="133.30" y="426.10" width="4.8" height="4.8" fill="#000"/>
<rect x="125.30" y="434.00" width="4.8" height="4.8" fill="#000"/>
<rect x="129.60" y="434.00" width="4.8" height="4.8" fill="#000"/>
<rect x="110.70" y="444.20" width="4.8" height="4.8" fill="#000"/>
<rect x="124.40" y="453.60" width="4.8" height="4.8" fill="#000"/>
<rect x="90.00" y="458.40" width="4.8" height="4.8" fill="#000"/>
<rect x="130.30" y="467.80" width="4.8" height="4.8" fill="#000"/>
<rect x="102.60" y="475.00" width="4.8" height="4.8" fill="#000"/>
<rect x="99.80" y="482.60" width="4.8" height="4.8" fill="#000"/>
<rect x="116.20" y="498.90" width="4.8" height="4.8" fill="#000"/>
<line x1="92.4" y1="483.2" x2="158" y2="410.3" stroke="#111" stroke-width="1.2" />
<defs><filter id="bl0_6" x="-20%" y="-20%" width="140%" height="140%"><feGaussianBlur stdDeviation="0.6"/></filter><filter id="bl0_8" x="-20%" y="-20%" width="140%" height="140%"><feGaussianBlur stdDeviation="0.8"/></filter><filter id="bl0_9" x="-20%" y="-20%" width="140%" height="140%"><feGaussianBlur stdDeviation="0.9"/></filter><filter id="bl1_0" x="-20%" y="-20%" width="140%" height="140%"><feGaussianBlur stdDeviation="1.0"/></filter><filter id="bl1_2" x="-20%" y="-20%" width="140%" height="140%"><feGaussianBlur stdDeviation="1.2"/></filter><filter id="bl1_5" x="-20%" y="-20%" width="140%" height="140%"><feGaussianBlur stdDeviation="1.5"/></filter><filter id="bl2_0" x="-20%" y="-20%" width="140%" height="140%"><feGaussianBlur stdDeviation="2.0"/></filter></defs>
<path d="M331.60,424.60 C331.83,423.75 332.05,421.23 333.00,419.50 C333.95,417.77 335.63,416.23 337.30,414.20 C338.97,412.17 340.88,409.03 343.00,407.30 C345.12,405.57 347.50,404.57 350.00,403.80 C352.50,403.03 355.88,402.57 358.00,402.70 C360.12,402.83 361.70,403.63 362.70,404.60 C363.70,405.57 363.95,406.70 364.00,408.50 C364.05,410.30 363.73,412.90 363.00,415.40 C362.27,417.90 360.77,421.00 359.60,423.50 C358.43,426.00 357.37,428.25 356.00,430.40 C354.63,432.55 352.98,434.83 351.40,436.40 C349.82,437.97 348.12,439.32 346.50,439.80 C344.88,440.28 343.27,440.05 341.70,439.30 C340.13,438.55 338.45,436.92 337.10,435.30 C335.75,433.68 334.52,431.38 333.60,429.60 C332.68,427.82 331.93,425.43 331.60,424.60 Z" fill="#000"/>
<radialGradient id="rg1" gradientUnits="userSpaceOnUse" cx="353" cy="414" r="22"><stop offset="0" stop-color="#444"/><stop offset="0.4" stop-color="#7a7a7a"/><stop offset="0.75" stop-color="#adadad"/><stop offset="1" stop-color="#dadada"/></radialGradient>
<clipPath id="cp1"><path d="M337.90,424.60 C338.00,423.67 338.12,420.93 338.50,419.00 C338.88,417.07 339.05,414.75 340.20,413.00 C341.35,411.25 343.57,409.73 345.40,408.50 C347.23,407.27 349.10,406.28 351.20,405.60 C353.30,404.92 356.27,404.37 358.00,404.40 C359.73,404.43 360.85,405.00 361.60,405.80 C362.35,406.60 362.57,407.45 362.50,409.20 C362.43,410.95 361.92,413.95 361.20,416.30 C360.48,418.65 359.30,421.08 358.20,423.30 C357.10,425.52 355.97,427.88 354.60,429.60 C353.23,431.32 351.53,432.83 350.00,433.60 C348.47,434.37 346.90,434.55 345.40,434.20 C343.90,433.85 342.12,432.50 341.00,431.50 C339.88,430.50 339.22,429.35 338.70,428.20 C338.18,427.05 338.03,425.20 337.90,424.60 Z"/></clipPath>
<path d="M337.90,424.60 C338.00,423.67 338.12,420.93 338.50,419.00 C338.88,417.07 339.05,414.75 340.20,413.00 C341.35,411.25 343.57,409.73 345.40,408.50 C347.23,407.27 349.10,406.28 351.20,405.60 C353.30,404.92 356.27,404.37 358.00,404.40 C359.73,404.43 360.85,405.00 361.60,405.80 C362.35,406.60 362.57,407.45 362.50,409.20 C362.43,410.95 361.92,413.95 361.20,416.30 C360.48,418.65 359.30,421.08 358.20,423.30 C357.10,425.52 355.97,427.88 354.60,429.60 C353.23,431.32 351.53,432.83 350.00,433.60 C348.47,434.37 346.90,434.55 345.40,434.20 C343.90,433.85 342.12,432.50 341.00,431.50 C339.88,430.50 339.22,429.35 338.70,428.20 C338.18,427.05 338.03,425.20 337.90,424.60 Z" fill="url(#rg1)" />
<g clip-path="url(#cp1)"><path d="M337.90,424.60 C338.00,423.67 338.12,420.93 338.50,419.00 C338.88,417.07 339.05,414.75 340.20,413.00 C341.35,411.25 343.57,409.73 345.40,408.50 C347.23,407.27 349.10,406.28 351.20,405.60 C353.30,404.92 356.27,404.37 358.00,404.40 C359.73,404.43 360.85,405.00 361.60,405.80 C362.35,406.60 362.57,407.45 362.50,409.20 C362.43,410.95 361.92,413.95 361.20,416.30 C360.48,418.65 359.30,421.08 358.20,423.30 C357.10,425.52 355.97,427.88 354.60,429.60 C353.23,431.32 351.53,432.83 350.00,433.60 C348.47,434.37 346.90,434.55 345.40,434.20 C343.90,433.85 342.12,432.50 341.00,431.50 C339.88,430.50 339.22,429.35 338.70,428.20 C338.18,427.05 338.03,425.20 337.90,424.60 Z" fill="none" stroke="#fff" stroke-width="3.0" filter="url(#bl0_9)"/></g>
<path d="M358.21,420.30 C357.93,420.69 357.17,421.93 356.57,422.64 C355.97,423.35 355.29,424.02 354.60,424.57 C353.91,425.12 353.17,425.60 352.44,425.95 C351.72,426.31 350.96,426.57 350.24,426.70 C349.53,426.83 348.80,426.85 348.15,426.76 C347.49,426.66 346.85,426.45 346.30,426.13 C345.75,425.81 345.24,425.37 344.83,424.84 C344.42,424.32 344.07,423.69 343.83,423.00 C343.59,422.31 343.43,421.53 343.38,420.72 C343.32,419.91 343.37,419.03 343.50,418.16 C343.63,417.29 343.87,416.37 344.19,415.49 C344.50,414.62 344.92,413.72 345.39,412.90 C345.87,412.08 346.43,411.27 347.03,410.56 C347.63,409.85 348.31,409.18 349.00,408.63 C349.69,408.08 350.43,407.60 351.16,407.25 C351.88,406.89 352.64,406.63 353.36,406.50 C354.07,406.37 354.80,406.35 355.45,406.44 C356.11,406.54 356.75,406.75 357.30,407.07 C357.85,407.39 358.36,407.83 358.77,408.36 C359.18,408.88 359.53,409.51 359.77,410.20 C360.01,410.89 360.17,411.67 360.22,412.48 C360.28,413.29 360.23,414.17 360.10,415.04 C359.97,415.91 359.73,416.83 359.41,417.71 C359.10,418.58 358.41,419.87 358.21,420.30 Z" fill="none" stroke="#fff" stroke-width="0.8" transform="translate(0.5,0.6)"/>
<path d="M358.21,420.30 C357.93,420.69 357.17,421.93 356.57,422.64 C355.97,423.35 355.29,424.02 354.60,424.57 C353.91,425.12 353.17,425.60 352.44,425.95 C351.72,426.31 350.96,426.57 350.24,426.70 C349.53,426.83 348.80,426.85 348.15,426.76 C347.49,426.66 346.85,426.45 346.30,426.13 C345.75,425.81 345.24,425.37 344.83,424.84 C344.42,424.32 344.07,423.69 343.83,423.00 C343.59,422.31 343.43,421.53 343.38,420.72 C343.32,419.91 343.37,419.03 343.50,418.16 C343.63,417.29 343.87,416.37 344.19,415.49 C344.50,414.62 344.92,413.72 345.39,412.90 C345.87,412.08 346.43,411.27 347.03,410.56 C347.63,409.85 348.31,409.18 349.00,408.63 C349.69,408.08 350.43,407.60 351.16,407.25 C351.88,406.89 352.64,406.63 353.36,406.50 C354.07,406.37 354.80,406.35 355.45,406.44 C356.11,406.54 356.75,406.75 357.30,407.07 C357.85,407.39 358.36,407.83 358.77,408.36 C359.18,408.88 359.53,409.51 359.77,410.20 C360.01,410.89 360.17,411.67 360.22,412.48 C360.28,413.29 360.23,414.17 360.10,415.04 C359.97,415.91 359.73,416.83 359.41,417.71 C359.10,418.58 358.41,419.87 358.21,420.30 Z" fill="none" stroke="#222" stroke-width="0.9"/>
<path d="M357.32,418.70 C357.10,419.01 356.49,420.00 356.01,420.57 C355.53,421.14 355.00,421.68 354.45,422.12 C353.90,422.57 353.32,422.95 352.74,423.24 C352.17,423.53 351.57,423.74 351.00,423.85 C350.44,423.96 349.87,423.98 349.35,423.91 C348.83,423.84 348.33,423.67 347.90,423.42 C347.47,423.17 347.07,422.82 346.75,422.41 C346.43,422.00 346.16,421.50 345.98,420.95 C345.79,420.40 345.67,419.78 345.64,419.14 C345.60,418.50 345.64,417.79 345.75,417.10 C345.86,416.40 346.05,415.67 346.31,414.97 C346.56,414.27 346.90,413.56 347.28,412.90 C347.66,412.24 348.11,411.60 348.59,411.03 C349.07,410.46 349.60,409.92 350.15,409.48 C350.70,409.03 351.28,408.65 351.86,408.36 C352.43,408.07 353.03,407.86 353.60,407.75 C354.16,407.64 354.73,407.62 355.25,407.69 C355.77,407.76 356.27,407.93 356.70,408.18 C357.13,408.43 357.53,408.78 357.85,409.19 C358.17,409.60 358.44,410.10 358.62,410.65 C358.81,411.20 358.93,411.82 358.96,412.46 C359.00,413.10 358.96,413.81 358.85,414.50 C358.74,415.20 358.55,415.93 358.29,416.63 C358.04,417.33 357.48,418.35 357.32,418.70 Z" fill="none" stroke="#fff" stroke-width="0.8" transform="translate(0.5,0.6)"/>
<path d="M357.32,418.70 C357.10,419.01 356.49,420.00 356.01,420.57 C355.53,421.14 355.00,421.68 354.45,422.12 C353.90,422.57 353.32,422.95 352.74,423.24 C352.17,423.53 351.57,423.74 351.00,423.85 C350.44,423.96 349.87,423.98 349.35,423.91 C348.83,423.84 348.33,423.67 347.90,423.42 C347.47,423.17 347.07,422.82 346.75,422.41 C346.43,422.00 346.16,421.50 345.98,420.95 C345.79,420.40 345.67,419.78 345.64,419.14 C345.60,418.50 345.64,417.79 345.75,417.10 C345.86,416.40 346.05,415.67 346.31,414.97 C346.56,414.27 346.90,413.56 347.28,412.90 C347.66,412.24 348.11,411.60 348.59,411.03 C349.07,410.46 349.60,409.92 350.15,409.48 C350.70,409.03 351.28,408.65 351.86,408.36 C352.43,408.07 353.03,407.86 353.60,407.75 C354.16,407.64 354.73,407.62 355.25,407.69 C355.77,407.76 356.27,407.93 356.70,408.18 C357.13,408.43 357.53,408.78 357.85,409.19 C358.17,409.60 358.44,410.10 358.62,410.65 C358.81,411.20 358.93,411.82 358.96,412.46 C359.00,413.10 358.96,413.81 358.85,414.50 C358.74,415.20 358.55,415.93 358.29,416.63 C358.04,417.33 357.48,418.35 357.32,418.70 Z" fill="none" stroke="#222" stroke-width="0.9"/>
<path d="M356.42,416.75 C356.26,416.98 355.81,417.71 355.46,418.13 C355.10,418.55 354.70,418.95 354.30,419.28 C353.90,419.60 353.46,419.89 353.04,420.10 C352.61,420.31 352.17,420.47 351.75,420.55 C351.33,420.63 350.91,420.65 350.52,420.59 C350.14,420.54 349.77,420.41 349.45,420.23 C349.13,420.04 348.83,419.79 348.60,419.48 C348.36,419.18 348.16,418.80 348.02,418.40 C347.89,418.00 347.80,417.53 347.77,417.06 C347.74,416.59 347.77,416.07 347.85,415.55 C347.93,415.04 348.07,414.50 348.26,413.98 C348.45,413.46 348.70,412.94 348.98,412.45 C349.26,411.96 349.59,411.49 349.94,411.07 C350.30,410.65 350.70,410.25 351.10,409.92 C351.50,409.60 351.94,409.31 352.36,409.10 C352.79,408.89 353.23,408.73 353.65,408.65 C354.07,408.57 354.49,408.55 354.88,408.61 C355.26,408.66 355.63,408.79 355.95,408.97 C356.27,409.16 356.57,409.41 356.80,409.72 C357.04,410.02 357.24,410.40 357.38,410.80 C357.51,411.20 357.60,411.67 357.63,412.14 C357.66,412.61 357.63,413.13 357.55,413.65 C357.47,414.16 357.33,414.70 357.14,415.22 C356.95,415.74 356.54,416.49 356.42,416.75 Z" fill="none" stroke="#fff" stroke-width="0.8" transform="translate(0.5,0.6)"/>
<path d="M356.42,416.75 C356.26,416.98 355.81,417.71 355.46,418.13 C355.10,418.55 354.70,418.95 354.30,419.28 C353.90,419.60 353.46,419.89 353.04,420.10 C352.61,420.31 352.17,420.47 351.75,420.55 C351.33,420.63 350.91,420.65 350.52,420.59 C350.14,420.54 349.77,420.41 349.45,420.23 C349.13,420.04 348.83,419.79 348.60,419.48 C348.36,419.18 348.16,418.80 348.02,418.40 C347.89,418.00 347.80,417.53 347.77,417.06 C347.74,416.59 347.77,416.07 347.85,415.55 C347.93,415.04 348.07,414.50 348.26,413.98 C348.45,413.46 348.70,412.94 348.98,412.45 C349.26,411.96 349.59,411.49 349.94,411.07 C350.30,410.65 350.70,410.25 351.10,409.92 C351.50,409.60 351.94,409.31 352.36,409.10 C352.79,408.89 353.23,408.73 353.65,408.65 C354.07,408.57 354.49,408.55 354.88,408.61 C355.26,408.66 355.63,408.79 355.95,408.97 C356.27,409.16 356.57,409.41 356.80,409.72 C357.04,410.02 357.24,410.40 357.38,410.80 C357.51,411.20 357.60,411.67 357.63,412.14 C357.66,412.61 357.63,413.13 357.55,413.65 C357.47,414.16 357.33,414.70 357.14,415.22 C356.95,415.74 356.54,416.49 356.42,416.75 Z" fill="none" stroke="#222" stroke-width="0.9"/>
<path d="M355.51,414.65 C355.41,414.79 355.14,415.23 354.92,415.47 C354.70,415.72 354.45,415.95 354.20,416.14 C353.95,416.33 353.67,416.50 353.40,416.61 C353.12,416.73 352.84,416.81 352.57,416.85 C352.30,416.89 352.02,416.88 351.77,416.84 C351.51,416.79 351.27,416.70 351.05,416.58 C350.83,416.45 350.63,416.28 350.47,416.09 C350.30,415.89 350.16,415.65 350.06,415.40 C349.95,415.15 349.88,414.86 349.85,414.56 C349.81,414.27 349.81,413.95 349.85,413.63 C349.89,413.32 349.96,412.99 350.07,412.67 C350.18,412.36 350.32,412.04 350.49,411.75 C350.66,411.46 350.86,411.17 351.08,410.93 C351.30,410.68 351.55,410.45 351.80,410.26 C352.05,410.07 352.33,409.90 352.60,409.79 C352.88,409.67 353.16,409.59 353.43,409.55 C353.70,409.51 353.98,409.52 354.23,409.56 C354.49,409.61 354.73,409.70 354.95,409.82 C355.17,409.95 355.37,410.12 355.53,410.31 C355.70,410.51 355.84,410.75 355.94,411.00 C356.05,411.25 356.12,411.54 356.15,411.84 C356.19,412.13 356.19,412.45 356.15,412.77 C356.11,413.08 356.04,413.41 355.93,413.73 C355.82,414.04 355.58,414.50 355.51,414.65 Z" fill="none" stroke="#fff" stroke-width="0.8" transform="translate(0.5,0.6)"/>
<path d="M355.51,414.65 C355.41,414.79 355.14,415.23 354.92,415.47 C354.70,415.72 354.45,415.95 354.20,416.14 C353.95,416.33 353.67,416.50 353.40,416.61 C353.12,416.73 352.84,416.81 352.57,416.85 C352.30,416.89 352.02,416.88 351.77,416.84 C351.51,416.79 351.27,416.70 351.05,416.58 C350.83,416.45 350.63,416.28 350.47,416.09 C350.30,415.89 350.16,415.65 350.06,415.40 C349.95,415.15 349.88,414.86 349.85,414.56 C349.81,414.27 349.81,413.95 349.85,413.63 C349.89,413.32 349.96,412.99 350.07,412.67 C350.18,412.36 350.32,412.04 350.49,411.75 C350.66,411.46 350.86,411.17 351.08,410.93 C351.30,410.68 351.55,410.45 351.80,410.26 C352.05,410.07 352.33,409.90 352.60,409.79 C352.88,409.67 353.16,409.59 353.43,409.55 C353.70,409.51 353.98,409.52 354.23,409.56 C354.49,409.61 354.73,409.70 354.95,409.82 C355.17,409.95 355.37,410.12 355.53,410.31 C355.70,410.51 355.84,410.75 355.94,411.00 C356.05,411.25 356.12,411.54 356.15,411.84 C356.19,412.13 356.19,412.45 356.15,412.77 C356.11,413.08 356.04,413.41 355.93,413.73 C355.82,414.04 355.58,414.50 355.51,414.65 Z" fill="none" stroke="#222" stroke-width="0.9"/>
<circle cx="353" cy="412.8" r="1.4" fill="#000"/>
<path d="M303,461 C304.3,460.6 305,462.5 304.7,464.2 C304.4,466 303.4,467 302.3,466.6 C301.3,466.2 301.4,463.8 303,461 Z" fill="#000"/>
<rect x="281.6" y="476.6" width="2.4" height="2.6" fill="#000" stroke="none" stroke-width="0" />
<rect x="299.5" y="489.2" width="5" height="1.8" fill="#000" stroke="none" stroke-width="0" />
<path d="M438.30,457.00 C438.18,455.63 437.82,452.28 437.60,448.80 C437.38,445.32 437.22,440.33 437.00,436.10 C436.78,431.87 436.20,426.78 436.30,423.40 C436.40,420.02 437.07,418.02 437.60,415.80 C438.13,413.58 438.23,411.70 439.50,410.10 C440.77,408.50 442.55,406.98 445.20,406.20 C447.85,405.42 451.58,405.45 455.40,405.40 C459.22,405.35 463.87,405.77 468.10,405.90 C472.33,406.03 477.63,405.82 480.80,406.20 C483.97,406.58 485.42,407.03 487.10,408.20 C488.78,409.37 490.05,410.67 490.90,413.20 C491.75,415.73 492.10,420.02 492.20,423.40 C492.30,426.78 491.93,430.55 491.50,433.50 C491.07,436.45 490.43,439.43 489.60,441.10 C488.77,442.77 487.55,442.70 486.50,443.50 C485.45,444.30 484.27,444.93 483.30,445.90 C482.33,446.87 481.72,448.30 480.70,449.30 C479.68,450.30 478.07,451.12 477.20,451.90 C476.33,452.68 475.93,453.28 475.50,454.00 C475.07,454.72 475.03,455.53 474.60,456.20 C474.17,456.87 473.33,456.98 472.90,458.00 C472.47,459.02 472.58,460.93 472.00,462.30 C471.42,463.67 470.40,465.70 469.40,466.20 C468.40,466.70 467.00,465.95 466.00,465.30 C465.00,464.65 464.13,462.58 463.40,462.30 C462.67,462.02 462.18,462.88 461.60,463.60 C461.02,464.32 459.82,465.52 459.90,466.60 C459.98,467.68 461.52,468.95 462.10,470.10 C462.68,471.25 463.48,472.50 463.40,473.50 C463.32,474.50 462.62,475.80 461.60,476.10 C460.58,476.40 458.30,476.15 457.30,475.30 C456.30,474.45 456.32,472.23 455.60,471.00 C454.88,469.77 453.87,468.05 453.00,467.90 C452.13,467.75 450.97,469.02 450.40,470.10 C449.83,471.18 449.83,473.08 449.60,474.40 C449.37,475.72 449.23,476.57 449.00,478.00 C448.77,479.43 448.43,481.27 448.20,483.00 C447.97,484.73 450.20,487.50 447.60,488.40 C445.00,489.30 435.32,489.07 432.60,488.40 C429.88,487.73 431.40,486.12 431.30,484.40 C431.20,482.68 431.47,480.22 432.00,478.10 C432.53,475.98 433.55,473.82 434.50,471.70 C435.45,469.58 437.07,467.85 437.70,465.40 C438.33,462.95 438.20,458.40 438.30,457.00 Z" fill="#000"/>
<radialGradient id="rg2" gradientUnits="userSpaceOnUse" cx="464" cy="423" r="36"><stop offset="0.45" stop-color="#2a2a2a"/><stop offset="0.7" stop-color="#555"/><stop offset="0.95" stop-color="#a0a0a0"/></radialGradient>
<clipPath id="cp2"><path d="M439.60,457.00 C439.53,455.63 439.37,452.28 439.20,448.80 C439.03,445.32 438.80,440.33 438.60,436.10 C438.40,431.87 437.90,426.67 438.00,423.40 C438.10,420.13 438.70,418.48 439.20,416.50 C439.70,414.52 439.87,412.98 441.00,411.50 C442.13,410.02 443.60,408.38 446.00,407.60 C448.40,406.82 451.72,406.85 455.40,406.80 C459.08,406.75 463.92,407.17 468.10,407.30 C472.28,407.43 477.48,407.25 480.50,407.60 C483.52,407.95 484.72,408.33 486.20,409.40 C487.68,410.47 488.65,411.67 489.40,414.00 C490.15,416.33 490.60,420.23 490.70,423.40 C490.80,426.57 490.42,430.27 490.00,433.00 C489.58,435.73 488.95,438.27 488.20,439.80 C487.45,441.33 486.53,441.33 485.50,442.20 C484.47,443.07 483.17,443.95 482.00,445.00 C480.83,446.05 479.58,447.42 478.50,448.50 C477.42,449.58 476.42,450.50 475.50,451.50 C474.58,452.50 473.92,453.70 473.00,454.50 C472.08,455.30 471.83,455.95 470.00,456.30 C468.17,456.65 465.00,456.53 462.00,456.60 C459.00,456.67 454.28,456.63 452.00,456.70 C449.72,456.77 448.98,455.78 448.30,457.00 C447.62,458.22 448.02,461.50 447.90,464.00 C447.78,466.50 447.77,469.17 447.60,472.00 C447.43,474.83 447.12,478.33 446.90,481.00 C446.68,483.67 448.52,486.83 446.30,488.00 C444.08,489.17 435.88,488.60 433.60,488.00 C431.32,487.40 432.65,485.98 432.60,484.40 C432.55,482.82 432.77,480.53 433.30,478.50 C433.83,476.47 434.92,474.35 435.80,472.20 C436.68,470.05 437.97,468.13 438.60,465.60 C439.23,463.07 439.43,458.43 439.60,457.00 Z"/></clipPath>
<path d="M439.60,457.00 C439.53,455.63 439.37,452.28 439.20,448.80 C439.03,445.32 438.80,440.33 438.60,436.10 C438.40,431.87 437.90,426.67 438.00,423.40 C438.10,420.13 438.70,418.48 439.20,416.50 C439.70,414.52 439.87,412.98 441.00,411.50 C442.13,410.02 443.60,408.38 446.00,407.60 C448.40,406.82 451.72,406.85 455.40,406.80 C459.08,406.75 463.92,407.17 468.10,407.30 C472.28,407.43 477.48,407.25 480.50,407.60 C483.52,407.95 484.72,408.33 486.20,409.40 C487.68,410.47 488.65,411.67 489.40,414.00 C490.15,416.33 490.60,420.23 490.70,423.40 C490.80,426.57 490.42,430.27 490.00,433.00 C489.58,435.73 488.95,438.27 488.20,439.80 C487.45,441.33 486.53,441.33 485.50,442.20 C484.47,443.07 483.17,443.95 482.00,445.00 C480.83,446.05 479.58,447.42 478.50,448.50 C477.42,449.58 476.42,450.50 475.50,451.50 C474.58,452.50 473.92,453.70 473.00,454.50 C472.08,455.30 471.83,455.95 470.00,456.30 C468.17,456.65 465.00,456.53 462.00,456.60 C459.00,456.67 454.28,456.63 452.00,456.70 C449.72,456.77 448.98,455.78 448.30,457.00 C447.62,458.22 448.02,461.50 447.90,464.00 C447.78,466.50 447.77,469.17 447.60,472.00 C447.43,474.83 447.12,478.33 446.90,481.00 C446.68,483.67 448.52,486.83 446.30,488.00 C444.08,489.17 435.88,488.60 433.60,488.00 C431.32,487.40 432.65,485.98 432.60,484.40 C432.55,482.82 432.77,480.53 433.30,478.50 C433.83,476.47 434.92,474.35 435.80,472.20 C436.68,470.05 437.97,468.13 438.60,465.60 C439.23,463.07 439.43,458.43 439.60,457.00 Z" fill="url(#rg2)" />
<g clip-path="url(#cp2)"><path d="M439.60,457.00 C439.53,455.63 439.37,452.28 439.20,448.80 C439.03,445.32 438.80,440.33 438.60,436.10 C438.40,431.87 437.90,426.67 438.00,423.40 C438.10,420.13 438.70,418.48 439.20,416.50 C439.70,414.52 439.87,412.98 441.00,411.50 C442.13,410.02 443.60,408.38 446.00,407.60 C448.40,406.82 451.72,406.85 455.40,406.80 C459.08,406.75 463.92,407.17 468.10,407.30 C472.28,407.43 477.48,407.25 480.50,407.60 C483.52,407.95 484.72,408.33 486.20,409.40 C487.68,410.47 488.65,411.67 489.40,414.00 C490.15,416.33 490.60,420.23 490.70,423.40 C490.80,426.57 490.42,430.27 490.00,433.00 C489.58,435.73 488.95,438.27 488.20,439.80 C487.45,441.33 486.53,441.33 485.50,442.20 C484.47,443.07 483.17,443.95 482.00,445.00 C480.83,446.05 479.58,447.42 478.50,448.50 C477.42,449.58 476.42,450.50 475.50,451.50 C474.58,452.50 473.92,453.70 473.00,454.50 C472.08,455.30 471.83,455.95 470.00,456.30 C468.17,456.65 465.00,456.53 462.00,456.60 C459.00,456.67 454.28,456.63 452.00,456.70 C449.72,456.77 448.98,455.78 448.30,457.00 C447.62,458.22 448.02,461.50 447.90,464.00 C447.78,466.50 447.77,469.17 447.60,472.00 C447.43,474.83 447.12,478.33 446.90,481.00 C446.68,483.67 448.52,486.83 446.30,488.00 C444.08,489.17 435.88,488.60 433.60,488.00 C431.32,487.40 432.65,485.98 432.60,484.40 C432.55,482.82 432.77,480.53 433.30,478.50 C433.83,476.47 434.92,474.35 435.80,472.20 C436.68,470.05 437.97,468.13 438.60,465.60 C439.23,463.07 439.43,458.43 439.60,457.00 Z" fill="none" stroke="#fff" stroke-width="3.0" filter="url(#bl0_8)"/></g>
<radialGradient id="rg3" gradientUnits="userSpaceOnUse" cx="441" cy="475" r="14"><stop offset="0.2" stop-color="#333"/><stop offset="0.55" stop-color="#666"/><stop offset="1" stop-color="#bbb"/></radialGradient>
<clipPath id="cp3"><path d="M439.60,456.50 L448.30,456.50 L447.90,464.00 L447.60,472.00 L446.90,481.00 L446.30,488.00 L433.60,488.00 L432.60,484.40 L433.30,478.50 L435.80,472.20 L438.60,465.60 L439.60,456.50 Z"/></clipPath>
<path d="M439.60,456.50 L448.30,456.50 L447.90,464.00 L447.60,472.00 L446.90,481.00 L446.30,488.00 L433.60,488.00 L432.60,484.40 L433.30,478.50 L435.80,472.20 L438.60,465.60 L439.60,456.50 Z" fill="url(#rg3)" />
<g clip-path="url(#cp3)"><path d="M439.60,456.50 L448.30,456.50 L447.90,464.00 L447.60,472.00 L446.90,481.00 L446.30,488.00 L433.60,488.00 L432.60,484.40 L433.30,478.50 L435.80,472.20 L438.60,465.60 L439.60,456.50 Z" fill="none" stroke="#fff" stroke-width="2.5" filter="url(#bl0_8)"/></g>
<clipPath id="cp4"><path d="M442.70,423.40 C442.92,422.13 442.95,417.60 444.00,415.80 C445.05,414.00 446.05,413.45 449.00,412.60 C451.95,411.75 457.47,411.02 461.70,410.70 C465.93,410.38 471.02,410.07 474.40,410.70 C477.78,411.33 480.40,412.38 482.00,414.50 C483.60,416.62 484.00,420.65 484.00,423.40 C484.00,426.15 483.17,428.88 482.00,431.00 C480.83,433.12 479.32,434.83 477.00,436.10 C474.68,437.37 471.28,438.18 468.10,438.60 C464.92,439.02 461.08,439.02 457.90,438.60 C454.72,438.18 451.32,437.37 449.00,436.10 C446.68,434.83 445.05,433.12 444.00,431.00 C442.95,428.88 442.92,424.67 442.70,423.40 Z"/></clipPath>
<path d="M442.70,423.40 C442.92,422.13 442.95,417.60 444.00,415.80 C445.05,414.00 446.05,413.45 449.00,412.60 C451.95,411.75 457.47,411.02 461.70,410.70 C465.93,410.38 471.02,410.07 474.40,410.70 C477.78,411.33 480.40,412.38 482.00,414.50 C483.60,416.62 484.00,420.65 484.00,423.40 C484.00,426.15 483.17,428.88 482.00,431.00 C480.83,433.12 479.32,434.83 477.00,436.10 C474.68,437.37 471.28,438.18 468.10,438.60 C464.92,439.02 461.08,439.02 457.90,438.60 C454.72,438.18 451.32,437.37 449.00,436.10 C446.68,434.83 445.05,433.12 444.00,431.00 C442.95,428.88 442.92,424.67 442.70,423.40 Z" fill="#404040" stroke="#111" stroke-width="0.6"/>
<g clip-path="url(#cp4)"><path d="M442.70,423.40 C442.92,422.13 442.95,417.60 444.00,415.80 C445.05,414.00 446.05,413.45 449.00,412.60 C451.95,411.75 457.47,411.02 461.70,410.70 C465.93,410.38 471.02,410.07 474.40,410.70 C477.78,411.33 480.40,412.38 482.00,414.50 C483.60,416.62 484.00,420.65 484.00,423.40 C484.00,426.15 483.17,428.88 482.00,431.00 C480.83,433.12 479.32,434.83 477.00,436.10 C474.68,437.37 471.28,438.18 468.10,438.60 C464.92,439.02 461.08,439.02 457.90,438.60 C454.72,438.18 451.32,437.37 449.00,436.10 C446.68,434.83 445.05,433.12 444.00,431.00 C442.95,428.88 442.92,424.67 442.70,423.40 Z" fill="none" stroke="#fff" stroke-width="4" filter="url(#bl1_2)"/></g>
<clipPath id="cp5"><path d="M449.00,423.40 C449.53,422.77 450.72,420.77 452.20,419.60 C453.68,418.43 455.25,417.25 457.90,416.40 C460.55,415.55 465.13,414.40 468.10,414.50 C471.07,414.60 474.02,415.52 475.70,417.00 C477.38,418.48 478.20,421.28 478.20,423.40 C478.20,425.52 477.38,427.80 475.70,429.70 C474.02,431.60 470.85,433.95 468.10,434.80 C465.35,435.65 461.75,435.43 459.20,434.80 C456.65,434.17 454.50,432.27 452.80,431.00 C451.10,429.73 449.63,428.47 449.00,427.20 C448.37,425.93 449.00,424.03 449.00,423.40 Z"/></clipPath>
<path d="M449.00,423.40 C449.53,422.77 450.72,420.77 452.20,419.60 C453.68,418.43 455.25,417.25 457.90,416.40 C460.55,415.55 465.13,414.40 468.10,414.50 C471.07,414.60 474.02,415.52 475.70,417.00 C477.38,418.48 478.20,421.28 478.20,423.40 C478.20,425.52 477.38,427.80 475.70,429.70 C474.02,431.60 470.85,433.95 468.10,434.80 C465.35,435.65 461.75,435.43 459.20,434.80 C456.65,434.17 454.50,432.27 452.80,431.00 C451.10,429.73 449.63,428.47 449.00,427.20 C448.37,425.93 449.00,424.03 449.00,423.40 Z" fill="#404040" stroke="#111" stroke-width="0.6"/>
<g clip-path="url(#cp5)"><path d="M449.00,423.40 C449.53,422.77 450.72,420.77 452.20,419.60 C453.68,418.43 455.25,417.25 457.90,416.40 C460.55,415.55 465.13,414.40 468.10,414.50 C471.07,414.60 474.02,415.52 475.70,417.00 C477.38,418.48 478.20,421.28 478.20,423.40 C478.20,425.52 477.38,427.80 475.70,429.70 C474.02,431.60 470.85,433.95 468.10,434.80 C465.35,435.65 461.75,435.43 459.20,434.80 C456.65,434.17 454.50,432.27 452.80,431.00 C451.10,429.73 449.63,428.47 449.00,427.20 C448.37,425.93 449.00,424.03 449.00,423.40 Z" fill="none" stroke="#fff" stroke-width="3.5" filter="url(#bl1_0)"/></g>
<clipPath id="cp6"><path d="M456.60,425.90 C457.13,424.95 458.32,421.57 459.80,420.20 C461.28,418.83 463.28,417.92 465.50,417.70 C467.72,417.48 471.62,417.95 473.10,418.90 C474.58,419.85 474.82,421.80 474.40,423.40 C473.98,425.00 472.08,427.02 470.60,428.50 C469.12,429.98 467.18,432.10 465.50,432.30 C463.82,432.50 461.98,430.77 460.50,429.70 C459.02,428.63 457.25,426.53 456.60,425.90 Z"/></clipPath>
<path d="M456.60,425.90 C457.13,424.95 458.32,421.57 459.80,420.20 C461.28,418.83 463.28,417.92 465.50,417.70 C467.72,417.48 471.62,417.95 473.10,418.90 C474.58,419.85 474.82,421.80 474.40,423.40 C473.98,425.00 472.08,427.02 470.60,428.50 C469.12,429.98 467.18,432.10 465.50,432.30 C463.82,432.50 461.98,430.77 460.50,429.70 C459.02,428.63 457.25,426.53 456.60,425.90 Z" fill="#404040" stroke="#111" stroke-width="0.6"/>
<g clip-path="url(#cp6)"><path d="M456.60,425.90 C457.13,424.95 458.32,421.57 459.80,420.20 C461.28,418.83 463.28,417.92 465.50,417.70 C467.72,417.48 471.62,417.95 473.10,418.90 C474.58,419.85 474.82,421.80 474.40,423.40 C473.98,425.00 472.08,427.02 470.60,428.50 C469.12,429.98 467.18,432.10 465.50,432.30 C463.82,432.50 461.98,430.77 460.50,429.70 C459.02,428.63 457.25,426.53 456.60,425.90 Z" fill="none" stroke="#fff" stroke-width="2.6" filter="url(#bl0_8)"/></g>
<ellipse cx="466" cy="423.5" rx="4" ry="3.2" fill="#1a1a1a"/>
<ellipse cx="470.5" cy="421" rx="1.4" ry="1.2" fill="#888"/>
<circle cx="475.8" cy="453.6" r="2.3" fill="#000"/>
<circle cx="479.6" cy="450.3" r="1.7" fill="#000"/>
<circle cx="482.5" cy="447.2" r="1.3" fill="#000"/>
<circle cx="471.5" cy="461.5" r="2.6" fill="#000"/>
<circle cx="466.5" cy="463.5" r="2.2" fill="#000"/>
<ellipse cx="459.5" cy="458.3" rx="2.8" ry="1.1" fill="#ccc"/>
<ellipse cx="469.4" cy="458.1" rx="1.0" ry="1.0" fill="#ddd"/>
<path d="M448.6,457.5 L448.3,466 L447.9,474 L447.3,481 L446.8,488" stroke="#000" stroke-width="1.6" fill="none"/>
<ellipse cx="440.9" cy="476.2" rx="4.6" ry="6.2" fill="none" stroke="#ddd" stroke-width="0.8"/>
<ellipse cx="440.9" cy="476.2" rx="3.6" ry="5" fill="none" stroke="#fff" stroke-width="1.1"/>
<ellipse cx="440.9" cy="476.2" rx="3.6" ry="5" fill="none" stroke="#222" stroke-width="0.6" transform="translate(0.5,0.5)"/>
<ellipse cx="440.9" cy="476.2" rx="1.5" ry="2.2" fill="#222"/>
<ellipse cx="440.9" cy="476.2" rx="0.6" ry="0.9" fill="#ccc"/>
<rect x="283.6" y="393.5" width="94.89999999999998" height="95.5" fill="none" stroke="#444" stroke-width="1" />
<line x1="331.5" y1="393.5" x2="331.5" y2="489" stroke="#333" stroke-width="1" />
<line x1="283.6" y1="448.4" x2="378.5" y2="448.4" stroke="#333" stroke-width="1" />
<line x1="281.1" y1="401.9" x2="283.6" y2="401.9" stroke="#333" stroke-width="0.8" />
<line x1="281.1" y1="423.5" x2="283.6" y2="423.5" stroke="#333" stroke-width="0.8" />
<line x1="281.1" y1="445.1" x2="283.6" y2="445.1" stroke="#333" stroke-width="0.8" />
<line x1="281.1" y1="466.7" x2="283.6" y2="466.7" stroke="#333" stroke-width="0.8" />
<line x1="281.1" y1="488.3" x2="283.6" y2="488.3" stroke="#333" stroke-width="0.8" />
<line x1="282.3" y1="406.22" x2="283.6" y2="406.22" stroke="#444" stroke-width="0.7" />
<line x1="282.3" y1="410.54" x2="283.6" y2="410.54" stroke="#444" stroke-width="0.7" />
<line x1="282.3" y1="414.86" x2="283.6" y2="414.86" stroke="#444" stroke-width="0.7" />
<line x1="282.3" y1="419.18" x2="283.6" y2="419.18" stroke="#444" stroke-width="0.7" />
<line x1="282.3" y1="427.82" x2="283.6" y2="427.82" stroke="#444" stroke-width="0.7" />
<line x1="282.3" y1="432.14" x2="283.6" y2="432.14" stroke="#444" stroke-width="0.7" />
<line x1="282.3" y1="436.46" x2="283.6" y2="436.46" stroke="#444" stroke-width="0.7" />
<line x1="282.3" y1="440.78" x2="283.6" y2="440.78" stroke="#444" stroke-width="0.7" />
<line x1="282.3" y1="449.42" x2="283.6" y2="449.42" stroke="#444" stroke-width="0.7" />
<line x1="282.3" y1="453.74" x2="283.6" y2="453.74" stroke="#444" stroke-width="0.7" />
<line x1="282.3" y1="458.06" x2="283.6" y2="458.06" stroke="#444" stroke-width="0.7" />
<line x1="282.3" y1="462.38" x2="283.6" y2="462.38" stroke="#444" stroke-width="0.7" />
<line x1="282.3" y1="471.02" x2="283.6" y2="471.02" stroke="#444" stroke-width="0.7" />
<line x1="282.3" y1="475.34" x2="283.6" y2="475.34" stroke="#444" stroke-width="0.7" />
<line x1="282.3" y1="479.66" x2="283.6" y2="479.66" stroke="#444" stroke-width="0.7" />
<line x1="282.3" y1="483.98" x2="283.6" y2="483.98" stroke="#444" stroke-width="0.7" />
<line x1="300.60" y1="489" x2="300.60" y2="492" stroke="#222" stroke-width="0.8" />
<line x1="309.63" y1="489" x2="309.63" y2="490.5" stroke="#222" stroke-width="0.8" />
<line x1="314.91" y1="489" x2="314.91" y2="490.5" stroke="#222" stroke-width="0.8" />
<line x1="318.66" y1="489" x2="318.66" y2="490.5" stroke="#222" stroke-width="0.8" />
<line x1="321.57" y1="489" x2="321.57" y2="490.5" stroke="#222" stroke-width="0.8" />
<line x1="323.94" y1="489" x2="323.94" y2="490.5" stroke="#222" stroke-width="0.8" />
<line x1="325.95" y1="489" x2="325.95" y2="490.5" stroke="#222" stroke-width="0.8" />
<line x1="327.69" y1="489" x2="327.69" y2="490.5" stroke="#222" stroke-width="0.8" />
<line x1="329.23" y1="489" x2="329.23" y2="490.5" stroke="#222" stroke-width="0.8" />
<line x1="330.60" y1="489" x2="330.60" y2="492" stroke="#222" stroke-width="0.8" />
<line x1="339.63" y1="489" x2="339.63" y2="490.5" stroke="#222" stroke-width="0.8" />
<line x1="344.91" y1="489" x2="344.91" y2="490.5" stroke="#222" stroke-width="0.8" />
<line x1="348.66" y1="489" x2="348.66" y2="490.5" stroke="#222" stroke-width="0.8" />
<line x1="351.57" y1="489" x2="351.57" y2="490.5" stroke="#222" stroke-width="0.8" />
<line x1="353.94" y1="489" x2="353.94" y2="490.5" stroke="#222" stroke-width="0.8" />
<line x1="355.95" y1="489" x2="355.95" y2="490.5" stroke="#222" stroke-width="0.8" />
<line x1="357.69" y1="489" x2="357.69" y2="490.5" stroke="#222" stroke-width="0.8" />
<line x1="359.23" y1="489" x2="359.23" y2="490.5" stroke="#222" stroke-width="0.8" />
<line x1="360.60" y1="489" x2="360.60" y2="492" stroke="#222" stroke-width="0.8" />
<line x1="369.63" y1="489" x2="369.63" y2="490.5" stroke="#222" stroke-width="0.8" />
<line x1="374.91" y1="489" x2="374.91" y2="490.5" stroke="#222" stroke-width="0.8" />
<rect x="417.6" y="393.5" width="94.69999999999993" height="95.5" fill="none" stroke="#444" stroke-width="1" />
<line x1="449.6" y1="393.5" x2="449.6" y2="489" stroke="#333" stroke-width="1" />
<line x1="417.6" y1="457.1" x2="512.3" y2="457.1" stroke="#333" stroke-width="1" />
<line x1="415.1" y1="401.9" x2="417.6" y2="401.9" stroke="#333" stroke-width="0.8" />
<line x1="415.1" y1="423.5" x2="417.6" y2="423.5" stroke="#333" stroke-width="0.8" />
<line x1="415.1" y1="445.1" x2="417.6" y2="445.1" stroke="#333" stroke-width="0.8" />
<line x1="415.1" y1="466.7" x2="417.6" y2="466.7" stroke="#333" stroke-width="0.8" />
<line x1="415.1" y1="488.3" x2="417.6" y2="488.3" stroke="#333" stroke-width="0.8" />
<line x1="416.3" y1="406.22" x2="417.6" y2="406.22" stroke="#444" stroke-width="0.7" />
<line x1="416.3" y1="410.54" x2="417.6" y2="410.54" stroke="#444" stroke-width="0.7" />
<line x1="416.3" y1="414.86" x2="417.6" y2="414.86" stroke="#444" stroke-width="0.7" />
<line x1="416.3" y1="419.18" x2="417.6" y2="419.18" stroke="#444" stroke-width="0.7" />
<line x1="416.3" y1="427.82" x2="417.6" y2="427.82" stroke="#444" stroke-width="0.7" />
<line x1="416.3" y1="432.14" x2="417.6" y2="432.14" stroke="#444" stroke-width="0.7" />
<line x1="416.3" y1="436.46" x2="417.6" y2="436.46" stroke="#444" stroke-width="0.7" />
<line x1="416.3" y1="440.78" x2="417.6" y2="440.78" stroke="#444" stroke-width="0.7" />
<line x1="416.3" y1="449.42" x2="417.6" y2="449.42" stroke="#444" stroke-width="0.7" />
<line x1="416.3" y1="453.74" x2="417.6" y2="453.74" stroke="#444" stroke-width="0.7" />
<line x1="416.3" y1="458.06" x2="417.6" y2="458.06" stroke="#444" stroke-width="0.7" />
<line x1="416.3" y1="462.38" x2="417.6" y2="462.38" stroke="#444" stroke-width="0.7" />
<line x1="416.3" y1="471.02" x2="417.6" y2="471.02" stroke="#444" stroke-width="0.7" />
<line x1="416.3" y1="475.34" x2="417.6" y2="475.34" stroke="#444" stroke-width="0.7" />
<line x1="416.3" y1="479.66" x2="417.6" y2="479.66" stroke="#444" stroke-width="0.7" />
<line x1="416.3" y1="483.98" x2="417.6" y2="483.98" stroke="#444" stroke-width="0.7" />
<line x1="434.60" y1="489" x2="434.60" y2="492" stroke="#222" stroke-width="0.8" />
<line x1="443.63" y1="489" x2="443.63" y2="490.5" stroke="#222" stroke-width="0.8" />
<line x1="448.91" y1="489" x2="448.91" y2="490.5" stroke="#222" stroke-width="0.8" />
<line x1="452.66" y1="489" x2="452.66" y2="490.5" stroke="#222" stroke-width="0.8" />
<line x1="455.57" y1="489" x2="455.57" y2="490.5" stroke="#222" stroke-width="0.8" />
<line x1="457.94" y1="489" x2="457.94" y2="490.5" stroke="#222" stroke-width="0.8" />
<line x1="459.95" y1="489" x2="459.95" y2="490.5" stroke="#222" stroke-width="0.8" />
<line x1="461.69" y1="489" x2="461.69" y2="490.5" stroke="#222" stroke-width="0.8" />
<line x1="463.23" y1="489" x2="463.23" y2="490.5" stroke="#222" stroke-width="0.8" />
<line x1="464.60" y1="489" x2="464.60" y2="492" stroke="#222" stroke-width="0.8" />
<line x1="473.63" y1="489" x2="473.63" y2="490.5" stroke="#222" stroke-width="0.8" />
<line x1="478.91" y1="489" x2="478.91" y2="490.5" stroke="#222" stroke-width="0.8" />
<line x1="482.66" y1="489" x2="482.66" y2="490.5" stroke="#222" stroke-width="0.8" />
<line x1="485.57" y1="489" x2="485.57" y2="490.5" stroke="#222" stroke-width="0.8" />
<line x1="487.94" y1="489" x2="487.94" y2="490.5" stroke="#222" stroke-width="0.8" />
<line x1="489.95" y1="489" x2="489.95" y2="490.5" stroke="#222" stroke-width="0.8" />
<line x1="491.69" y1="489" x2="491.69" y2="490.5" stroke="#222" stroke-width="0.8" />
<line x1="493.23" y1="489" x2="493.23" y2="490.5" stroke="#222" stroke-width="0.8" />
<line x1="494.60" y1="489" x2="494.60" y2="492" stroke="#222" stroke-width="0.8" />
<line x1="503.63" y1="489" x2="503.63" y2="490.5" stroke="#222" stroke-width="0.8" />
<line x1="508.91" y1="489" x2="508.91" y2="490.5" stroke="#222" stroke-width="0.8" />
<text x="288" y="405.3" font-size="8.5" text-anchor="start" fill="#111" >0.7</text>
<text x="378" y="404.5" font-size="8.5" text-anchor="end" fill="#111" >98.6</text>
<text x="288" y="485.4" font-size="8.5" text-anchor="start" fill="#111" >0.7</text>
<text x="370" y="484.8" font-size="8.5" text-anchor="end" fill="#111" >0</text>
<text x="419.8" y="405" font-size="8.5" text-anchor="start" fill="#111" >11.7</text>
<text x="510" y="405" font-size="8.5" text-anchor="end" fill="#111" >79.7</text>
<text x="419" y="485.8" font-size="8.5" text-anchor="start" fill="#111" >7.5</text>
<text x="509" y="484.4" font-size="8.5" text-anchor="end" fill="#111" >2.1</text>
<line x1="261.5" y1="432.4" x2="261.5" y2="410.2" stroke="#111" stroke-width="1.3" />
<path d="M261.5,404.7 L258.3,411.2 L264.7,411.2 Z" fill="#111"/>
<line x1="261.5" y1="482.7" x2="261.5" y2="504.5" stroke="#111" stroke-width="1.3" />
<line x1="260.9" y1="504.5" x2="279.6" y2="504.5" stroke="#111" stroke-width="1.3" />
<text transform="translate(265.0,457.4) rotate(-90)" font-size="11.2" text-anchor="middle" fill="#111" font-weight="bold" textLength="25.8" lengthAdjust="spacingAndGlyphs">CD27</text>
<text x="304.35" y="508.7" font-size="11.2" text-anchor="middle" fill="#111" font-weight="bold" textLength="24.8" lengthAdjust="spacingAndGlyphs" >CD28</text>
<line x1="328" y1="505" x2="362.8" y2="505" stroke="#111" stroke-width="1.3" />
<path d="M368.8,505 L361.8,501.8 L361.8,508.2 Z" fill="#111"/>
<line x1="395.6" y1="433.6" x2="395.6" y2="410.1" stroke="#111" stroke-width="1.3" />
<path d="M395.6,404.6 L392.20000000000005,411.1 L399.0,411.1 Z" fill="#111"/>
<line x1="395.6" y1="482.2" x2="395.6" y2="503.8" stroke="#111" stroke-width="1.3" />
<line x1="395" y1="503.8" x2="412" y2="503.8" stroke="#111" stroke-width="1.3" />
<text transform="translate(399.0,457.4) rotate(-90)" font-size="11.3" text-anchor="middle" fill="#111" font-weight="bold" textLength="26.1" lengthAdjust="spacingAndGlyphs">CD57</text>
<text x="437.3" y="508.6" font-size="11" text-anchor="middle" fill="#111" font-weight="bold" textLength="21.4" lengthAdjust="spacingAndGlyphs" >Ki67</text>
<line x1="461.3" y1="505" x2="495.3" y2="505" stroke="#111" stroke-width="1.3" />
<path d="M501.3,505 L494.3,501.8 L494.3,508.2 Z" fill="#111"/>
<path d="M0,0.55 H520 M0.55,0 V551 M0,550.45 H520" stroke="#111" stroke-width="1.1" fill="none"/>
<rect x="518.6" y="0" width="1.4" height="551" fill="#111"/>
</svg></body></html>
